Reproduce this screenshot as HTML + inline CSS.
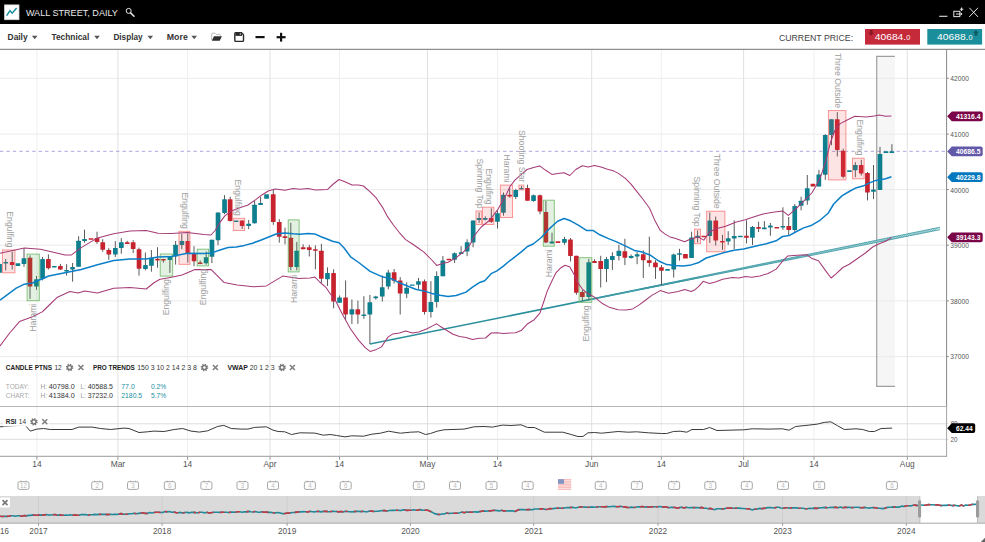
<!DOCTYPE html><html><head><meta charset="utf-8"><title>Wall Street, Daily</title>
<style>html,body{margin:0;padding:0;background:#fff;overflow:hidden}body{width:985px;height:542px;position:relative}svg{display:block;position:absolute;left:0;top:0}text{font-family:"Liberation Sans", Arial, sans-serif}</style></head><body>
<svg width="985" height="542" viewBox="0 0 985 542">
<rect x="0" y="0" width="985" height="542" fill="#fff"/>
<defs><clipPath id="cc"><rect x="0" y="50.5" width="947" height="355.5"/></clipPath><clipPath id="nv"><rect x="0" y="496" width="985" height="27"/></clipPath></defs>
<rect x="876.7" y="56.5" width="18.2" height="330" fill="#f6f6f6"/>
<line x1="0" x2="947" y1="78.3" y2="78.3" stroke="#ebebeb" stroke-width="1"/>
<line x1="0" x2="947" y1="134.1" y2="134.1" stroke="#ebebeb" stroke-width="1"/>
<line x1="0" x2="947" y1="189.6" y2="189.6" stroke="#ebebeb" stroke-width="1"/>
<line x1="0" x2="947" y1="245.2" y2="245.2" stroke="#ebebeb" stroke-width="1"/>
<line x1="0" x2="947" y1="300.9" y2="300.9" stroke="#ebebeb" stroke-width="1"/>
<line x1="0" x2="947" y1="356.6" y2="356.6" stroke="#ebebeb" stroke-width="1"/>
<line x1="36.9" x2="36.9" y1="50" y2="456" stroke="#efefef" stroke-width="1"/>
<line x1="36.9" x2="36.9" y1="456.5" y2="459.8" stroke="#999" stroke-width="1"/>
<line x1="117.9" x2="117.9" y1="50" y2="456" stroke="#e1e1e1" stroke-width="1"/>
<line x1="117.9" x2="117.9" y1="456.5" y2="459.8" stroke="#999" stroke-width="1"/>
<line x1="187.6" x2="187.6" y1="50" y2="456" stroke="#efefef" stroke-width="1"/>
<line x1="187.6" x2="187.6" y1="456.5" y2="459.8" stroke="#999" stroke-width="1"/>
<line x1="270" x2="270" y1="50" y2="456" stroke="#e1e1e1" stroke-width="1"/>
<line x1="270" x2="270" y1="456.5" y2="459.8" stroke="#999" stroke-width="1"/>
<line x1="339.5" x2="339.5" y1="50" y2="456" stroke="#efefef" stroke-width="1"/>
<line x1="339.5" x2="339.5" y1="456.5" y2="459.8" stroke="#999" stroke-width="1"/>
<line x1="427.5" x2="427.5" y1="50" y2="456" stroke="#e1e1e1" stroke-width="1"/>
<line x1="427.5" x2="427.5" y1="456.5" y2="459.8" stroke="#999" stroke-width="1"/>
<line x1="497.5" x2="497.5" y1="50" y2="456" stroke="#efefef" stroke-width="1"/>
<line x1="497.5" x2="497.5" y1="456.5" y2="459.8" stroke="#999" stroke-width="1"/>
<line x1="591.7" x2="591.7" y1="50" y2="456" stroke="#e1e1e1" stroke-width="1"/>
<line x1="591.7" x2="591.7" y1="456.5" y2="459.8" stroke="#999" stroke-width="1"/>
<line x1="661.3" x2="661.3" y1="50" y2="456" stroke="#efefef" stroke-width="1"/>
<line x1="661.3" x2="661.3" y1="456.5" y2="459.8" stroke="#999" stroke-width="1"/>
<line x1="743.6" x2="743.6" y1="50" y2="456" stroke="#e1e1e1" stroke-width="1"/>
<line x1="743.6" x2="743.6" y1="456.5" y2="459.8" stroke="#999" stroke-width="1"/>
<line x1="814" x2="814" y1="50" y2="456" stroke="#efefef" stroke-width="1"/>
<line x1="814" x2="814" y1="456.5" y2="459.8" stroke="#999" stroke-width="1"/>
<line x1="907.3" x2="907.3" y1="50" y2="456" stroke="#e1e1e1" stroke-width="1"/>
<line x1="907.3" x2="907.3" y1="456.5" y2="459.8" stroke="#999" stroke-width="1"/>
<path d="M894.9 56.4 H876.7 V386.4 H894.9" fill="none" stroke="#a0a0a0" stroke-width="1.2"/>
<g clip-path="url(#cc)">
<line x1="0" x2="947" y1="151.3" y2="151.3" stroke="#a9a5dc" stroke-width="1" stroke-dasharray="3.3 3.15"/>
<path d="M369.9 344.1 L700 277.2" stroke="#2a909c" stroke-width="1.5" fill="none"/>
<path d="M700 277.2 L800 256.9" stroke="#2a909c" stroke-width="1.1" fill="none" opacity="0.7"/>
<path d="M585 300.2 L940 227.2 L940 229.7 L585 300.7 Z" fill="#c4e3e6" opacity="0.9"/>
<path d="M640 289.7 L643.6 288.2" stroke="#2a909c" stroke-width="0.7" opacity="0.75" fill="none"/>
<path d="M642.6 289.2 L646.2 287.7" stroke="#2a909c" stroke-width="0.7" opacity="0.75" fill="none"/>
<path d="M645.2 288.7 L648.8 287.1" stroke="#2a909c" stroke-width="0.7" opacity="0.75" fill="none"/>
<path d="M647.8 288.2 L651.4 286.6" stroke="#2a909c" stroke-width="0.7" opacity="0.75" fill="none"/>
<path d="M650.4 287.6 L654 286.1" stroke="#2a909c" stroke-width="0.7" opacity="0.75" fill="none"/>
<path d="M653 287.1 L656.6 285.5" stroke="#2a909c" stroke-width="0.7" opacity="0.75" fill="none"/>
<path d="M655.6 286.6 L659.2 285" stroke="#2a909c" stroke-width="0.7" opacity="0.75" fill="none"/>
<path d="M658.2 286.1 L661.8 284.4" stroke="#2a909c" stroke-width="0.7" opacity="0.75" fill="none"/>
<path d="M660.8 285.6 L664.4 283.9" stroke="#2a909c" stroke-width="0.7" opacity="0.75" fill="none"/>
<path d="M663.4 285 L667 283.4" stroke="#2a909c" stroke-width="0.7" opacity="0.75" fill="none"/>
<path d="M666 284.5 L669.6 282.8" stroke="#2a909c" stroke-width="0.7" opacity="0.75" fill="none"/>
<path d="M668.6 284 L672.2 282.3" stroke="#2a909c" stroke-width="0.7" opacity="0.75" fill="none"/>
<path d="M671.2 283.5 L674.8 281.8" stroke="#2a909c" stroke-width="0.7" opacity="0.75" fill="none"/>
<path d="M673.8 283 L677.4 281.2" stroke="#2a909c" stroke-width="0.7" opacity="0.75" fill="none"/>
<path d="M676.4 282.4 L680 280.7" stroke="#2a909c" stroke-width="0.7" opacity="0.75" fill="none"/>
<path d="M679 281.9 L682.6 280.2" stroke="#2a909c" stroke-width="0.7" opacity="0.75" fill="none"/>
<path d="M681.6 281.4 L685.2 279.6" stroke="#2a909c" stroke-width="0.7" opacity="0.75" fill="none"/>
<path d="M684.2 280.9 L687.8 279.1" stroke="#2a909c" stroke-width="0.7" opacity="0.75" fill="none"/>
<path d="M686.8 280.4 L690.4 278.6" stroke="#2a909c" stroke-width="0.7" opacity="0.75" fill="none"/>
<path d="M689.4 279.8 L693 278" stroke="#2a909c" stroke-width="0.7" opacity="0.75" fill="none"/>
<path d="M692 279.3 L695.6 277.5" stroke="#2a909c" stroke-width="0.7" opacity="0.75" fill="none"/>
<path d="M694.6 278.8 L698.2 277" stroke="#2a909c" stroke-width="0.7" opacity="0.75" fill="none"/>
<path d="M697.2 278.3 L700.8 276.4" stroke="#2a909c" stroke-width="0.7" opacity="0.75" fill="none"/>
<path d="M699.8 277.8 L703.4 275.9" stroke="#2a909c" stroke-width="0.7" opacity="0.75" fill="none"/>
<path d="M702.4 277.2 L706 275.4" stroke="#2a909c" stroke-width="0.7" opacity="0.75" fill="none"/>
<path d="M705 276.7 L708.6 274.8" stroke="#2a909c" stroke-width="0.7" opacity="0.75" fill="none"/>
<path d="M707.6 276.2 L711.2 274.3" stroke="#2a909c" stroke-width="0.7" opacity="0.75" fill="none"/>
<path d="M710.2 275.7 L713.8 273.8" stroke="#2a909c" stroke-width="0.7" opacity="0.75" fill="none"/>
<path d="M712.8 275.2 L716.4 273.2" stroke="#2a909c" stroke-width="0.7" opacity="0.75" fill="none"/>
<path d="M715.4 274.6 L719 272.7" stroke="#2a909c" stroke-width="0.7" opacity="0.75" fill="none"/>
<path d="M718 274.1 L721.6 272.2" stroke="#2a909c" stroke-width="0.7" opacity="0.75" fill="none"/>
<path d="M720.6 273.6 L724.2 271.6" stroke="#2a909c" stroke-width="0.7" opacity="0.75" fill="none"/>
<path d="M723.2 273.1 L726.8 271.1" stroke="#2a909c" stroke-width="0.7" opacity="0.75" fill="none"/>
<path d="M725.8 272.6 L729.4 270.5" stroke="#2a909c" stroke-width="0.7" opacity="0.75" fill="none"/>
<path d="M728.4 272.1 L732 270" stroke="#2a909c" stroke-width="0.7" opacity="0.75" fill="none"/>
<path d="M731 271.5 L734.6 269.5" stroke="#2a909c" stroke-width="0.7" opacity="0.75" fill="none"/>
<path d="M733.6 271 L737.2 268.9" stroke="#2a909c" stroke-width="0.7" opacity="0.75" fill="none"/>
<path d="M736.2 270.5 L739.8 268.4" stroke="#2a909c" stroke-width="0.7" opacity="0.75" fill="none"/>
<path d="M738.8 270 L742.4 267.9" stroke="#2a909c" stroke-width="0.7" opacity="0.75" fill="none"/>
<path d="M741.4 269.5 L745 267.3" stroke="#2a909c" stroke-width="0.7" opacity="0.75" fill="none"/>
<path d="M744 268.9 L747.6 266.8" stroke="#2a909c" stroke-width="0.7" opacity="0.75" fill="none"/>
<path d="M746.6 268.4 L750.2 266.3" stroke="#2a909c" stroke-width="0.7" opacity="0.75" fill="none"/>
<path d="M749.2 267.9 L752.8 265.7" stroke="#2a909c" stroke-width="0.7" opacity="0.75" fill="none"/>
<path d="M751.8 267.4 L755.4 265.2" stroke="#2a909c" stroke-width="0.7" opacity="0.75" fill="none"/>
<path d="M754.4 266.9 L758 264.7" stroke="#2a909c" stroke-width="0.7" opacity="0.75" fill="none"/>
<path d="M757 266.3 L760.6 264.1" stroke="#2a909c" stroke-width="0.7" opacity="0.75" fill="none"/>
<path d="M759.6 265.8 L763.2 263.6" stroke="#2a909c" stroke-width="0.7" opacity="0.75" fill="none"/>
<path d="M762.2 265.3 L765.8 263.1" stroke="#2a909c" stroke-width="0.7" opacity="0.75" fill="none"/>
<path d="M764.8 264.8 L768.4 262.5" stroke="#2a909c" stroke-width="0.7" opacity="0.75" fill="none"/>
<path d="M767.4 264.3 L771 262" stroke="#2a909c" stroke-width="0.7" opacity="0.75" fill="none"/>
<path d="M770 263.7 L773.6 261.5" stroke="#2a909c" stroke-width="0.7" opacity="0.75" fill="none"/>
<path d="M772.6 263.2 L776.2 260.9" stroke="#2a909c" stroke-width="0.7" opacity="0.75" fill="none"/>
<path d="M775.2 262.7 L778.8 260.4" stroke="#2a909c" stroke-width="0.7" opacity="0.75" fill="none"/>
<path d="M777.8 262.2 L781.4 259.9" stroke="#2a909c" stroke-width="0.7" opacity="0.75" fill="none"/>
<path d="M780.4 261.7 L784 259.3" stroke="#2a909c" stroke-width="0.7" opacity="0.75" fill="none"/>
<path d="M783 261.1 L786.6 258.8" stroke="#2a909c" stroke-width="0.7" opacity="0.75" fill="none"/>
<path d="M785.6 260.6 L789.2 258.3" stroke="#2a909c" stroke-width="0.7" opacity="0.75" fill="none"/>
<path d="M788.2 260.1 L791.8 257.7" stroke="#2a909c" stroke-width="0.7" opacity="0.75" fill="none"/>
<path d="M790.8 259.6 L794.4 257.2" stroke="#2a909c" stroke-width="0.7" opacity="0.75" fill="none"/>
<path d="M793.4 259.1 L797 256.6" stroke="#2a909c" stroke-width="0.7" opacity="0.75" fill="none"/>
<path d="M796 258.5 L799.6 256.1" stroke="#2a909c" stroke-width="0.7" opacity="0.75" fill="none"/>
<path d="M798.6 258 L802.2 255.6" stroke="#2a909c" stroke-width="0.7" opacity="0.75" fill="none"/>
<path d="M801.2 257.5 L804.8 255" stroke="#2a909c" stroke-width="0.7" opacity="0.75" fill="none"/>
<path d="M803.8 257 L807.4 254.5" stroke="#2a909c" stroke-width="0.7" opacity="0.75" fill="none"/>
<path d="M806.4 256.5 L810 254" stroke="#2a909c" stroke-width="0.7" opacity="0.75" fill="none"/>
<path d="M809 255.9 L812.6 253.4" stroke="#2a909c" stroke-width="0.7" opacity="0.75" fill="none"/>
<path d="M811.6 255.4 L815.2 252.9" stroke="#2a909c" stroke-width="0.7" opacity="0.75" fill="none"/>
<path d="M814.2 254.9 L817.8 252.4" stroke="#2a909c" stroke-width="0.7" opacity="0.75" fill="none"/>
<path d="M816.8 254.4 L820.4 251.8" stroke="#2a909c" stroke-width="0.7" opacity="0.75" fill="none"/>
<path d="M819.4 253.9 L823 251.3" stroke="#2a909c" stroke-width="0.7" opacity="0.75" fill="none"/>
<path d="M822 253.3 L825.6 250.8" stroke="#2a909c" stroke-width="0.7" opacity="0.75" fill="none"/>
<path d="M824.6 252.8 L828.2 250.2" stroke="#2a909c" stroke-width="0.7" opacity="0.75" fill="none"/>
<path d="M827.2 252.3 L830.8 249.7" stroke="#2a909c" stroke-width="0.7" opacity="0.75" fill="none"/>
<path d="M829.8 251.8 L833.4 249.2" stroke="#2a909c" stroke-width="0.7" opacity="0.75" fill="none"/>
<path d="M832.4 251.3 L836 248.6" stroke="#2a909c" stroke-width="0.7" opacity="0.75" fill="none"/>
<path d="M835 250.7 L838.6 248.1" stroke="#2a909c" stroke-width="0.7" opacity="0.75" fill="none"/>
<path d="M837.6 250.2 L841.2 247.6" stroke="#2a909c" stroke-width="0.7" opacity="0.75" fill="none"/>
<path d="M840.2 249.7 L843.8 247" stroke="#2a909c" stroke-width="0.7" opacity="0.75" fill="none"/>
<path d="M842.8 249.2 L846.4 246.5" stroke="#2a909c" stroke-width="0.7" opacity="0.75" fill="none"/>
<path d="M845.4 248.7 L849 246" stroke="#2a909c" stroke-width="0.7" opacity="0.75" fill="none"/>
<path d="M848 248.1 L851.6 245.4" stroke="#2a909c" stroke-width="0.7" opacity="0.75" fill="none"/>
<path d="M850.6 247.6 L854.2 244.9" stroke="#2a909c" stroke-width="0.7" opacity="0.75" fill="none"/>
<path d="M853.2 247.1 L856.8 244.4" stroke="#2a909c" stroke-width="0.7" opacity="0.75" fill="none"/>
<path d="M855.8 246.6 L859.4 243.8" stroke="#2a909c" stroke-width="0.7" opacity="0.75" fill="none"/>
<path d="M858.4 246.1 L862 243.3" stroke="#2a909c" stroke-width="0.7" opacity="0.75" fill="none"/>
<path d="M861 245.5 L864.6 242.7" stroke="#2a909c" stroke-width="0.7" opacity="0.75" fill="none"/>
<path d="M863.6 245 L867.2 242.2" stroke="#2a909c" stroke-width="0.7" opacity="0.75" fill="none"/>
<path d="M866.2 244.5 L869.8 241.7" stroke="#2a909c" stroke-width="0.7" opacity="0.75" fill="none"/>
<path d="M868.8 244 L872.4 241.1" stroke="#2a909c" stroke-width="0.7" opacity="0.75" fill="none"/>
<path d="M871.4 243.5 L875 240.6" stroke="#2a909c" stroke-width="0.7" opacity="0.75" fill="none"/>
<path d="M874 242.9 L877.6 240.1" stroke="#2a909c" stroke-width="0.7" opacity="0.75" fill="none"/>
<path d="M876.6 242.4 L880.2 239.5" stroke="#2a909c" stroke-width="0.7" opacity="0.75" fill="none"/>
<path d="M879.2 241.9 L882.8 239" stroke="#2a909c" stroke-width="0.7" opacity="0.75" fill="none"/>
<path d="M881.8 241.4 L885.4 238.5" stroke="#2a909c" stroke-width="0.7" opacity="0.75" fill="none"/>
<path d="M884.4 240.9 L888 237.9" stroke="#2a909c" stroke-width="0.7" opacity="0.75" fill="none"/>
<path d="M887 240.3 L890.6 237.4" stroke="#2a909c" stroke-width="0.7" opacity="0.75" fill="none"/>
<path d="M889.6 239.8 L893.2 236.9" stroke="#2a909c" stroke-width="0.7" opacity="0.75" fill="none"/>
<path d="M892.2 239.3 L895.8 236.3" stroke="#2a909c" stroke-width="0.7" opacity="0.75" fill="none"/>
<path d="M894.8 238.8 L898.4 235.8" stroke="#2a909c" stroke-width="0.7" opacity="0.75" fill="none"/>
<path d="M897.4 238.3 L901 235.3" stroke="#2a909c" stroke-width="0.7" opacity="0.75" fill="none"/>
<path d="M900 237.7 L903.6 234.7" stroke="#2a909c" stroke-width="0.7" opacity="0.75" fill="none"/>
<path d="M902.6 237.2 L906.2 234.2" stroke="#2a909c" stroke-width="0.7" opacity="0.75" fill="none"/>
<path d="M905.2 236.7 L908.8 233.7" stroke="#2a909c" stroke-width="0.7" opacity="0.75" fill="none"/>
<path d="M907.8 236.2 L911.4 233.1" stroke="#2a909c" stroke-width="0.7" opacity="0.75" fill="none"/>
<path d="M910.4 235.7 L914 232.6" stroke="#2a909c" stroke-width="0.7" opacity="0.75" fill="none"/>
<path d="M913 235.1 L916.6 232.1" stroke="#2a909c" stroke-width="0.7" opacity="0.75" fill="none"/>
<path d="M915.6 234.6 L919.2 231.5" stroke="#2a909c" stroke-width="0.7" opacity="0.75" fill="none"/>
<path d="M918.2 234.1 L921.8 231" stroke="#2a909c" stroke-width="0.7" opacity="0.75" fill="none"/>
<path d="M920.8 233.6 L924.4 230.5" stroke="#2a909c" stroke-width="0.7" opacity="0.75" fill="none"/>
<path d="M923.4 233.1 L927 229.9" stroke="#2a909c" stroke-width="0.7" opacity="0.75" fill="none"/>
<path d="M926 232.5 L929.6 229.4" stroke="#2a909c" stroke-width="0.7" opacity="0.75" fill="none"/>
<path d="M928.6 232 L932.2 228.8" stroke="#2a909c" stroke-width="0.7" opacity="0.75" fill="none"/>
<path d="M931.2 231.5 L934.8 228.3" stroke="#2a909c" stroke-width="0.7" opacity="0.75" fill="none"/>
<path d="M933.8 231 L937.4 227.8" stroke="#2a909c" stroke-width="0.7" opacity="0.75" fill="none"/>
<path d="M585 300.2 L940 227.2" stroke="#2a909c" stroke-width="0.85" opacity="0.85" fill="none"/>
<path d="M585 300.7 L940 229.7" stroke="#2a909c" stroke-width="0.85" opacity="0.85" fill="none"/>
<line x1="-0.4" x2="-0.4" y1="262.5" y2="273.5" stroke="#5a5a5a" stroke-width="1"/>
<rect x="-2.8" y="263.9" width="4.7" height="8.9" fill="#0e7f8e" rx="0.4"/>
<line x1="5.7" x2="5.7" y1="259" y2="270.4" stroke="#5a5a5a" stroke-width="1"/>
<rect x="3.4" y="261.9" width="4.7" height="1.6" fill="#0e7f8e" rx="0.4"/>
<line x1="12.2" x2="12.2" y1="251.7" y2="269.5" stroke="#5a5a5a" stroke-width="1"/>
<rect x="9.8" y="261.9" width="4.7" height="3.1" fill="#c7232f" rx="0.4"/>
<rect x="15.5" y="263.2" width="4.7" height="2.8" fill="#0e7f8e" rx="0.4"/>
<line x1="24" x2="24" y1="248.4" y2="266.8" stroke="#5a5a5a" stroke-width="1"/>
<rect x="21.6" y="258.2" width="4.7" height="5.7" fill="#0e7f8e" rx="0.4"/>
<line x1="30" x2="30" y1="255.4" y2="298.8" stroke="#5a5a5a" stroke-width="1"/>
<rect x="27.6" y="257.8" width="4.7" height="28.8" fill="#c7232f" rx="0.4"/>
<line x1="36.5" x2="36.5" y1="276" y2="289.8" stroke="#5a5a5a" stroke-width="1"/>
<rect x="34.1" y="279.3" width="4.7" height="7.3" fill="#0e7f8e" rx="0.4"/>
<line x1="42.6" x2="42.6" y1="257" y2="280.4" stroke="#5a5a5a" stroke-width="1"/>
<rect x="40.2" y="259" width="4.7" height="19.8" fill="#0e7f8e" rx="0.4"/>
<line x1="48.4" x2="48.4" y1="254.4" y2="269.5" stroke="#5a5a5a" stroke-width="1"/>
<rect x="46" y="259" width="4.7" height="9.2" fill="#c7232f" rx="0.4"/>
<rect x="52" y="266" width="4.7" height="1.4" fill="#0e7f8e" rx="0.4"/>
<line x1="60.4" x2="60.4" y1="263.9" y2="269.9" stroke="#5a5a5a" stroke-width="1"/>
<rect x="58" y="266" width="4.7" height="3.5" fill="#c7232f" rx="0.4"/>
<line x1="66.6" x2="66.6" y1="264.2" y2="275.6" stroke="#5a5a5a" stroke-width="1"/>
<rect x="64.2" y="269.9" width="4.7" height="1.6" fill="#0e7f8e" rx="0.4"/>
<line x1="72.6" x2="72.6" y1="263" y2="281.7" stroke="#5a5a5a" stroke-width="1"/>
<rect x="70.2" y="267.1" width="4.7" height="2.4" fill="#0e7f8e" rx="0.4"/>
<line x1="78.6" x2="78.6" y1="236.2" y2="266.8" stroke="#5a5a5a" stroke-width="1"/>
<rect x="76.2" y="240.8" width="4.7" height="26" fill="#0e7f8e" rx="0.4"/>
<line x1="84.5" x2="84.5" y1="229.7" y2="242.7" stroke="#5a5a5a" stroke-width="1"/>
<rect x="82.2" y="239" width="4.7" height="2.1" fill="#0e7f8e" rx="0.4"/>
<rect x="88.7" y="238.2" width="4.7" height="1.6" fill="#c7232f" rx="0.4"/>
<line x1="97" x2="97" y1="231.7" y2="243.9" stroke="#5a5a5a" stroke-width="1"/>
<rect x="94.7" y="237.9" width="4.7" height="4" fill="#c7232f" rx="0.4"/>
<line x1="102.7" x2="102.7" y1="239.2" y2="251.7" stroke="#5a5a5a" stroke-width="1"/>
<rect x="100.4" y="242.3" width="4.7" height="7.4" fill="#c7232f" rx="0.4"/>
<line x1="108.8" x2="108.8" y1="247.9" y2="259.8" stroke="#5a5a5a" stroke-width="1"/>
<rect x="106.5" y="250" width="4.7" height="4.4" fill="#c7232f" rx="0.4"/>
<line x1="115.3" x2="115.3" y1="241.1" y2="257" stroke="#5a5a5a" stroke-width="1"/>
<rect x="113" y="247.9" width="4.7" height="6.5" fill="#0e7f8e" rx="0.4"/>
<line x1="121.3" x2="121.3" y1="238.2" y2="253.8" stroke="#5a5a5a" stroke-width="1"/>
<rect x="119" y="242.3" width="4.7" height="5.6" fill="#0e7f8e" rx="0.4"/>
<line x1="127.2" x2="127.2" y1="240.8" y2="243.9" stroke="#5a5a5a" stroke-width="1"/>
<rect x="124.9" y="242.3" width="4.7" height="1.6" fill="#c7232f" rx="0.4"/>
<line x1="133.2" x2="133.2" y1="240.3" y2="253" stroke="#5a5a5a" stroke-width="1"/>
<rect x="130.8" y="242.3" width="4.7" height="6.6" fill="#c7232f" rx="0.4"/>
<line x1="139" x2="139" y1="247.6" y2="275.6" stroke="#5a5a5a" stroke-width="1"/>
<rect x="136.7" y="249.2" width="4.7" height="19.5" fill="#c7232f" rx="0.4"/>
<line x1="145.4" x2="145.4" y1="252.5" y2="270.4" stroke="#5a5a5a" stroke-width="1"/>
<rect x="143.1" y="265" width="4.7" height="4.1" fill="#0e7f8e" rx="0.4"/>
<line x1="151.4" x2="151.4" y1="250" y2="271.7" stroke="#5a5a5a" stroke-width="1"/>
<rect x="149.1" y="257.7" width="4.7" height="8.1" fill="#0e7f8e" rx="0.4"/>
<line x1="157.5" x2="157.5" y1="247.2" y2="267.8" stroke="#5a5a5a" stroke-width="1"/>
<rect x="155.2" y="258.8" width="4.7" height="1.6" fill="#c7232f" rx="0.4"/>
<line x1="163.4" x2="163.4" y1="258.9" y2="262.6" stroke="#5a5a5a" stroke-width="1"/>
<rect x="161.1" y="258.9" width="4.7" height="1.6" fill="#c7232f" rx="0.4"/>
<line x1="169.9" x2="169.9" y1="256.5" y2="272.9" stroke="#5a5a5a" stroke-width="1"/>
<rect x="167.6" y="256.5" width="4.7" height="3.5" fill="#0e7f8e" rx="0.4"/>
<line x1="175.6" x2="175.6" y1="241" y2="264.6" stroke="#5a5a5a" stroke-width="1"/>
<rect x="173.2" y="244.8" width="4.7" height="11.7" fill="#0e7f8e" rx="0.4"/>
<line x1="181.8" x2="181.8" y1="233.7" y2="249.2" stroke="#5a5a5a" stroke-width="1"/>
<rect x="179.5" y="241" width="4.7" height="4.1" fill="#0e7f8e" rx="0.4"/>
<line x1="187.8" x2="187.8" y1="233.4" y2="262.6" stroke="#5a5a5a" stroke-width="1"/>
<rect x="185.5" y="241" width="4.7" height="11.9" fill="#c7232f" rx="0.4"/>
<line x1="194" x2="194" y1="246.2" y2="266.2" stroke="#5a5a5a" stroke-width="1"/>
<rect x="191.7" y="252.9" width="4.7" height="8.4" fill="#c7232f" rx="0.4"/>
<line x1="200.2" x2="200.2" y1="260.5" y2="264.1" stroke="#5a5a5a" stroke-width="1"/>
<rect x="197.8" y="262.6" width="4.7" height="1.5" fill="#c7232f" rx="0.4"/>
<line x1="206.2" x2="206.2" y1="251.6" y2="264.6" stroke="#5a5a5a" stroke-width="1"/>
<rect x="203.8" y="257.3" width="4.7" height="6" fill="#0e7f8e" rx="0.4"/>
<line x1="211.9" x2="211.9" y1="239.7" y2="263" stroke="#5a5a5a" stroke-width="1"/>
<rect x="209.6" y="239.7" width="4.7" height="17.1" fill="#0e7f8e" rx="0.4"/>
<line x1="218" x2="218" y1="212.6" y2="245.1" stroke="#5a5a5a" stroke-width="1"/>
<rect x="215.7" y="212.6" width="4.7" height="27.6" fill="#0e7f8e" rx="0.4"/>
<line x1="224.5" x2="224.5" y1="195.1" y2="214.2" stroke="#5a5a5a" stroke-width="1"/>
<rect x="222.2" y="199.3" width="4.7" height="13.6" fill="#0e7f8e" rx="0.4"/>
<line x1="230.2" x2="230.2" y1="196.7" y2="221.5" stroke="#5a5a5a" stroke-width="1"/>
<rect x="227.8" y="199.3" width="4.7" height="21.8" fill="#c7232f" rx="0.4"/>
<rect x="233.8" y="220.4" width="4.7" height="1.6" fill="#0e7f8e" rx="0.4"/>
<line x1="242.2" x2="242.2" y1="220.4" y2="228.9" stroke="#5a5a5a" stroke-width="1"/>
<rect x="239.8" y="220.4" width="4.7" height="5.5" fill="#c7232f" rx="0.4"/>
<line x1="248.7" x2="248.7" y1="219.9" y2="229.2" stroke="#5a5a5a" stroke-width="1"/>
<rect x="246.3" y="223.7" width="4.7" height="2.2" fill="#0e7f8e" rx="0.4"/>
<line x1="254.6" x2="254.6" y1="200.8" y2="223.7" stroke="#5a5a5a" stroke-width="1"/>
<rect x="252.2" y="204.8" width="4.7" height="18.4" fill="#0e7f8e" rx="0.4"/>
<line x1="260.6" x2="260.6" y1="196.7" y2="205" stroke="#5a5a5a" stroke-width="1"/>
<rect x="258.2" y="202.9" width="4.7" height="2.1" fill="#0e7f8e" rx="0.4"/>
<rect x="264.2" y="194.3" width="4.7" height="4.5" fill="#0e7f8e" rx="0.4"/>
<line x1="273.3" x2="273.3" y1="189.9" y2="224.8" stroke="#5a5a5a" stroke-width="1"/>
<rect x="270.9" y="194.3" width="4.7" height="27.7" fill="#c7232f" rx="0.4"/>
<line x1="279.3" x2="279.3" y1="219.1" y2="242.7" stroke="#5a5a5a" stroke-width="1"/>
<rect x="276.9" y="222" width="4.7" height="14.7" fill="#c7232f" rx="0.4"/>
<line x1="285" x2="285" y1="227.6" y2="244.3" stroke="#5a5a5a" stroke-width="1"/>
<rect x="282.6" y="236.2" width="4.7" height="1.9" fill="#c7232f" rx="0.4"/>
<line x1="290.8" x2="290.8" y1="222.7" y2="270.3" stroke="#5a5a5a" stroke-width="1"/>
<rect x="288.4" y="237.8" width="4.7" height="29.2" fill="#c7232f" rx="0.4"/>
<line x1="296.8" x2="296.8" y1="241.9" y2="270.3" stroke="#5a5a5a" stroke-width="1"/>
<rect x="294.4" y="250.8" width="4.7" height="16.2" fill="#0e7f8e" rx="0.4"/>
<line x1="303.1" x2="303.1" y1="244.3" y2="249.2" stroke="#5a5a5a" stroke-width="1"/>
<rect x="300.8" y="247.2" width="4.7" height="2" fill="#c7232f" rx="0.4"/>
<line x1="309.3" x2="309.3" y1="244.8" y2="256.5" stroke="#5a5a5a" stroke-width="1"/>
<rect x="306.9" y="247.2" width="4.7" height="2.8" fill="#c7232f" rx="0.4"/>
<line x1="315.4" x2="315.4" y1="245.4" y2="269.3" stroke="#5a5a5a" stroke-width="1"/>
<rect x="313" y="249.2" width="4.7" height="1.6" fill="#c7232f" rx="0.4"/>
<line x1="321.4" x2="321.4" y1="243.8" y2="282.8" stroke="#5a5a5a" stroke-width="1"/>
<rect x="319" y="250.8" width="4.7" height="27.9" fill="#c7232f" rx="0.4"/>
<line x1="327.5" x2="327.5" y1="267.4" y2="286" stroke="#5a5a5a" stroke-width="1"/>
<rect x="325.1" y="273" width="4.7" height="6.2" fill="#0e7f8e" rx="0.4"/>
<line x1="333.6" x2="333.6" y1="269.3" y2="308.3" stroke="#5a5a5a" stroke-width="1"/>
<rect x="331.2" y="273" width="4.7" height="28.5" fill="#c7232f" rx="0.4"/>
<line x1="339.6" x2="339.6" y1="295.5" y2="302.8" stroke="#5a5a5a" stroke-width="1"/>
<rect x="337.2" y="297.4" width="4.7" height="5.4" fill="#0e7f8e" rx="0.4"/>
<line x1="345.6" x2="345.6" y1="280.4" y2="320" stroke="#5a5a5a" stroke-width="1"/>
<rect x="343.2" y="297.4" width="4.7" height="17.1" fill="#c7232f" rx="0.4"/>
<line x1="351.9" x2="351.9" y1="299.5" y2="324.1" stroke="#5a5a5a" stroke-width="1"/>
<rect x="349.5" y="309.3" width="4.7" height="5.2" fill="#0e7f8e" rx="0.4"/>
<line x1="357.9" x2="357.9" y1="300.7" y2="323.8" stroke="#5a5a5a" stroke-width="1"/>
<rect x="355.5" y="309.3" width="4.7" height="5.2" fill="#c7232f" rx="0.4"/>
<line x1="363.9" x2="363.9" y1="296.2" y2="318.9" stroke="#5a5a5a" stroke-width="1"/>
<rect x="361.5" y="314.5" width="4.7" height="1.6" fill="#0e7f8e" rx="0.4"/>
<line x1="369.9" x2="369.9" y1="294.9" y2="343.9" stroke="#5a5a5a" stroke-width="1"/>
<rect x="367.5" y="302.2" width="4.7" height="12.2" fill="#0e7f8e" rx="0.4"/>
<line x1="375.8" x2="375.8" y1="295.8" y2="299.5" stroke="#5a5a5a" stroke-width="1"/>
<rect x="373.4" y="296.6" width="4.7" height="1.6" fill="#0e7f8e" rx="0.4"/>
<line x1="382.3" x2="382.3" y1="275.5" y2="301.5" stroke="#5a5a5a" stroke-width="1"/>
<rect x="379.9" y="287.2" width="4.7" height="9.4" fill="#0e7f8e" rx="0.4"/>
<line x1="388.3" x2="388.3" y1="269.8" y2="289.3" stroke="#5a5a5a" stroke-width="1"/>
<rect x="385.9" y="272.6" width="4.7" height="13.8" fill="#0e7f8e" rx="0.4"/>
<line x1="394.1" x2="394.1" y1="269" y2="283.6" stroke="#5a5a5a" stroke-width="1"/>
<rect x="391.8" y="272.2" width="4.7" height="8.5" fill="#c7232f" rx="0.4"/>
<line x1="400.2" x2="400.2" y1="277.1" y2="314.5" stroke="#5a5a5a" stroke-width="1"/>
<rect x="397.8" y="280.4" width="4.7" height="13" fill="#c7232f" rx="0.4"/>
<line x1="406.7" x2="406.7" y1="282.3" y2="298.2" stroke="#5a5a5a" stroke-width="1"/>
<rect x="404.3" y="287.7" width="4.7" height="6" fill="#0e7f8e" rx="0.4"/>
<rect x="409.9" y="284.4" width="4.7" height="1.4" fill="#0e7f8e" rx="0.4"/>
<line x1="418.5" x2="418.5" y1="277.9" y2="288.8" stroke="#5a5a5a" stroke-width="1"/>
<rect x="416.1" y="281.2" width="4.7" height="3.5" fill="#0e7f8e" rx="0.4"/>
<line x1="424.5" x2="424.5" y1="279.5" y2="314.5" stroke="#5a5a5a" stroke-width="1"/>
<rect x="422.1" y="281.2" width="4.7" height="30.8" fill="#c7232f" rx="0.4"/>
<line x1="430.9" x2="430.9" y1="281.2" y2="317.6" stroke="#5a5a5a" stroke-width="1"/>
<rect x="428.5" y="302" width="4.7" height="10" fill="#0e7f8e" rx="0.4"/>
<line x1="436.7" x2="436.7" y1="271.4" y2="307.6" stroke="#5a5a5a" stroke-width="1"/>
<rect x="434.3" y="276" width="4.7" height="26" fill="#0e7f8e" rx="0.4"/>
<line x1="442.9" x2="442.9" y1="256" y2="276.3" stroke="#5a5a5a" stroke-width="1"/>
<rect x="440.5" y="260.5" width="4.7" height="15.8" fill="#0e7f8e" rx="0.4"/>
<rect x="446.5" y="258.8" width="4.7" height="1.4" fill="#c7232f" rx="0.4"/>
<line x1="454.6" x2="454.6" y1="252.4" y2="263" stroke="#5a5a5a" stroke-width="1"/>
<rect x="452.2" y="253.2" width="4.7" height="6.5" fill="#0e7f8e" rx="0.4"/>
<line x1="461.1" x2="461.1" y1="246.2" y2="253.9" stroke="#5a5a5a" stroke-width="1"/>
<rect x="458.8" y="252.3" width="4.7" height="1.6" fill="#0e7f8e" rx="0.4"/>
<line x1="467.1" x2="467.1" y1="239.3" y2="256.2" stroke="#5a5a5a" stroke-width="1"/>
<rect x="464.8" y="242.3" width="4.7" height="9.2" fill="#0e7f8e" rx="0.4"/>
<line x1="473.1" x2="473.1" y1="220.5" y2="247.3" stroke="#5a5a5a" stroke-width="1"/>
<rect x="470.8" y="220.5" width="4.7" height="21.9" fill="#0e7f8e" rx="0.4"/>
<line x1="479.1" x2="479.1" y1="212.4" y2="222.9" stroke="#5a5a5a" stroke-width="1"/>
<rect x="476.8" y="218" width="4.7" height="2" fill="#0e7f8e" rx="0.4"/>
<line x1="485.3" x2="485.3" y1="216.4" y2="220.5" stroke="#5a5a5a" stroke-width="1"/>
<rect x="482.9" y="218" width="4.7" height="1.7" fill="#0e7f8e" rx="0.4"/>
<line x1="491.3" x2="491.3" y1="208.3" y2="222.9" stroke="#5a5a5a" stroke-width="1"/>
<rect x="488.9" y="218" width="4.7" height="3.8" fill="#c7232f" rx="0.4"/>
<line x1="497.5" x2="497.5" y1="210.4" y2="228.6" stroke="#5a5a5a" stroke-width="1"/>
<rect x="495.1" y="213.2" width="4.7" height="8.6" fill="#0e7f8e" rx="0.4"/>
<line x1="503.5" x2="503.5" y1="192.5" y2="215.6" stroke="#5a5a5a" stroke-width="1"/>
<rect x="501.1" y="194.8" width="4.7" height="17.9" fill="#0e7f8e" rx="0.4"/>
<line x1="509.7" x2="509.7" y1="188" y2="197.7" stroke="#5a5a5a" stroke-width="1"/>
<rect x="507.3" y="194.8" width="4.7" height="1.6" fill="#c7232f" rx="0.4"/>
<line x1="515.8" x2="515.8" y1="188.8" y2="199" stroke="#5a5a5a" stroke-width="1"/>
<rect x="513.4" y="189.9" width="4.7" height="7" fill="#0e7f8e" rx="0.4"/>
<line x1="521.5" x2="521.5" y1="186" y2="189.6" stroke="#5a5a5a" stroke-width="1"/>
<rect x="519.1" y="188" width="4.7" height="1.6" fill="#0e7f8e" rx="0.4"/>
<line x1="527.5" x2="527.5" y1="184.7" y2="200.7" stroke="#5a5a5a" stroke-width="1"/>
<rect x="525.1" y="188" width="4.7" height="12.7" fill="#c7232f" rx="0.4"/>
<line x1="533.6" x2="533.6" y1="194.5" y2="201.8" stroke="#5a5a5a" stroke-width="1"/>
<rect x="531.2" y="195.3" width="4.7" height="5.7" fill="#0e7f8e" rx="0.4"/>
<line x1="540" x2="540" y1="194.5" y2="214.3" stroke="#5a5a5a" stroke-width="1"/>
<rect x="537.6" y="195.3" width="4.7" height="16.2" fill="#c7232f" rx="0.4"/>
<line x1="545.9" x2="545.9" y1="201" y2="243.2" stroke="#5a5a5a" stroke-width="1"/>
<rect x="543.5" y="212" width="4.7" height="30.4" fill="#c7232f" rx="0.4"/>
<line x1="552" x2="552" y1="232.7" y2="243.6" stroke="#5a5a5a" stroke-width="1"/>
<rect x="549.6" y="241.6" width="4.7" height="1.9" fill="#0e7f8e" rx="0.4"/>
<rect x="555.6" y="241.2" width="4.7" height="1.7" fill="#c7232f" rx="0.4"/>
<line x1="564.5" x2="564.5" y1="236.9" y2="244.8" stroke="#5a5a5a" stroke-width="1"/>
<rect x="562.1" y="238.9" width="4.7" height="3.8" fill="#0e7f8e" rx="0.4"/>
<line x1="570.5" x2="570.5" y1="238.1" y2="261.5" stroke="#5a5a5a" stroke-width="1"/>
<rect x="568.1" y="239.6" width="4.7" height="16.4" fill="#c7232f" rx="0.4"/>
<line x1="576.4" x2="576.4" y1="255.8" y2="294.8" stroke="#5a5a5a" stroke-width="1"/>
<rect x="574" y="255.8" width="4.7" height="36.9" fill="#c7232f" rx="0.4"/>
<line x1="582.4" x2="582.4" y1="290.2" y2="300.8" stroke="#5a5a5a" stroke-width="1"/>
<rect x="580" y="291.9" width="4.7" height="5.2" fill="#c7232f" rx="0.4"/>
<line x1="588.8" x2="588.8" y1="259" y2="299.7" stroke="#5a5a5a" stroke-width="1"/>
<rect x="586.4" y="262.3" width="4.7" height="34.8" fill="#0e7f8e" rx="0.4"/>
<line x1="594.5" x2="594.5" y1="259.3" y2="262.9" stroke="#5a5a5a" stroke-width="1"/>
<rect x="592.1" y="261" width="4.7" height="1.9" fill="#c7232f" rx="0.4"/>
<line x1="600.7" x2="600.7" y1="255.8" y2="287.5" stroke="#5a5a5a" stroke-width="1"/>
<rect x="598.4" y="261" width="4.7" height="8.1" fill="#c7232f" rx="0.4"/>
<line x1="606.5" x2="606.5" y1="256.9" y2="282.1" stroke="#5a5a5a" stroke-width="1"/>
<rect x="604.1" y="259" width="4.7" height="10.1" fill="#0e7f8e" rx="0.4"/>
<line x1="612.4" x2="612.4" y1="252.3" y2="269.9" stroke="#5a5a5a" stroke-width="1"/>
<rect x="610" y="255.9" width="4.7" height="4" fill="#0e7f8e" rx="0.4"/>
<line x1="618.9" x2="618.9" y1="244.8" y2="260.5" stroke="#5a5a5a" stroke-width="1"/>
<rect x="616.5" y="250.7" width="4.7" height="5.3" fill="#0e7f8e" rx="0.4"/>
<line x1="624.9" x2="624.9" y1="238.8" y2="265.1" stroke="#5a5a5a" stroke-width="1"/>
<rect x="622.5" y="251.2" width="4.7" height="6.5" fill="#c7232f" rx="0.4"/>
<line x1="631.1" x2="631.1" y1="254.5" y2="258.6" stroke="#5a5a5a" stroke-width="1"/>
<rect x="628.8" y="256.1" width="4.7" height="2" fill="#0e7f8e" rx="0.4"/>
<line x1="637.1" x2="637.1" y1="252.1" y2="264.2" stroke="#5a5a5a" stroke-width="1"/>
<rect x="634.8" y="254.2" width="4.7" height="2.2" fill="#0e7f8e" rx="0.4"/>
<line x1="643.3" x2="643.3" y1="250.4" y2="278" stroke="#5a5a5a" stroke-width="1"/>
<rect x="640.9" y="254.2" width="4.7" height="6" fill="#c7232f" rx="0.4"/>
<line x1="649.3" x2="649.3" y1="236.6" y2="266.7" stroke="#5a5a5a" stroke-width="1"/>
<rect x="646.9" y="260.2" width="4.7" height="2.7" fill="#c7232f" rx="0.4"/>
<line x1="655.5" x2="655.5" y1="260.2" y2="278.9" stroke="#5a5a5a" stroke-width="1"/>
<rect x="653.1" y="262.6" width="4.7" height="4.6" fill="#c7232f" rx="0.4"/>
<line x1="661.5" x2="661.5" y1="265.1" y2="285.4" stroke="#5a5a5a" stroke-width="1"/>
<rect x="659.1" y="267.2" width="4.7" height="3.5" fill="#c7232f" rx="0.4"/>
<rect x="665.2" y="269.1" width="4.7" height="1.6" fill="#0e7f8e" rx="0.4"/>
<line x1="673.7" x2="673.7" y1="253.7" y2="277.6" stroke="#5a5a5a" stroke-width="1"/>
<rect x="671.4" y="254.5" width="4.7" height="15.1" fill="#0e7f8e" rx="0.4"/>
<line x1="679.5" x2="679.5" y1="248.8" y2="260.7" stroke="#5a5a5a" stroke-width="1"/>
<rect x="677.1" y="253.2" width="4.7" height="1.6" fill="#0e7f8e" rx="0.4"/>
<rect x="683.1" y="254" width="4.7" height="4.6" fill="#c7232f" rx="0.4"/>
<line x1="691.6" x2="691.6" y1="231.7" y2="258" stroke="#5a5a5a" stroke-width="1"/>
<rect x="689.2" y="237.6" width="4.7" height="20.4" fill="#0e7f8e" rx="0.4"/>
<line x1="697.6" x2="697.6" y1="230.4" y2="242.5" stroke="#5a5a5a" stroke-width="1"/>
<rect x="695.2" y="235.7" width="4.7" height="2.3" fill="#0e7f8e" rx="0.4"/>
<rect x="701.4" y="235.7" width="4.7" height="1.5" fill="#c7232f" rx="0.4"/>
<line x1="709.8" x2="709.8" y1="212.5" y2="243" stroke="#5a5a5a" stroke-width="1"/>
<rect x="707.4" y="220.6" width="4.7" height="15.4" fill="#0e7f8e" rx="0.4"/>
<line x1="715.7" x2="715.7" y1="216.5" y2="245.5" stroke="#5a5a5a" stroke-width="1"/>
<rect x="713.4" y="220.6" width="4.7" height="19.8" fill="#c7232f" rx="0.4"/>
<line x1="722.5" x2="722.5" y1="234.9" y2="249.9" stroke="#5a5a5a" stroke-width="1"/>
<rect x="720.1" y="240.9" width="4.7" height="1.6" fill="#c7232f" rx="0.4"/>
<line x1="728.2" x2="728.2" y1="231.2" y2="245" stroke="#5a5a5a" stroke-width="1"/>
<rect x="725.9" y="238.2" width="4.7" height="3.2" fill="#0e7f8e" rx="0.4"/>
<line x1="734.2" x2="734.2" y1="220.3" y2="249" stroke="#5a5a5a" stroke-width="1"/>
<rect x="731.9" y="236" width="4.7" height="2.5" fill="#0e7f8e" rx="0.4"/>
<rect x="738" y="235.7" width="4.7" height="1.5" fill="#0e7f8e" rx="0.4"/>
<line x1="746.5" x2="746.5" y1="220.3" y2="243.4" stroke="#5a5a5a" stroke-width="1"/>
<rect x="744.1" y="235.7" width="4.7" height="2.1" fill="#c7232f" rx="0.4"/>
<line x1="752.5" x2="752.5" y1="226" y2="245" stroke="#5a5a5a" stroke-width="1"/>
<rect x="750.1" y="227.1" width="4.7" height="10.6" fill="#0e7f8e" rx="0.4"/>
<line x1="758.6" x2="758.6" y1="221.7" y2="232" stroke="#5a5a5a" stroke-width="1"/>
<rect x="756.2" y="227.1" width="4.7" height="1.6" fill="#c7232f" rx="0.4"/>
<line x1="764.4" x2="764.4" y1="221.1" y2="229.2" stroke="#5a5a5a" stroke-width="1"/>
<rect x="762" y="227.6" width="4.7" height="1.6" fill="#0e7f8e" rx="0.4"/>
<line x1="770.4" x2="770.4" y1="223" y2="235.7" stroke="#5a5a5a" stroke-width="1"/>
<rect x="768" y="225.5" width="4.7" height="2.1" fill="#0e7f8e" rx="0.4"/>
<rect x="774.5" y="227.1" width="4.7" height="1.4" fill="#c7232f" rx="0.4"/>
<line x1="782.9" x2="782.9" y1="207.3" y2="229.9" stroke="#5a5a5a" stroke-width="1"/>
<rect x="780.5" y="226" width="4.7" height="1.4" fill="#0e7f8e" rx="0.4"/>
<line x1="788.7" x2="788.7" y1="217" y2="235.9" stroke="#5a5a5a" stroke-width="1"/>
<rect x="786.4" y="226" width="4.7" height="4" fill="#c7232f" rx="0.4"/>
<line x1="794.8" x2="794.8" y1="204" y2="231.7" stroke="#5a5a5a" stroke-width="1"/>
<rect x="792.4" y="206" width="4.7" height="24" fill="#0e7f8e" rx="0.4"/>
<line x1="801.1" x2="801.1" y1="196.7" y2="210.4" stroke="#5a5a5a" stroke-width="1"/>
<rect x="798.8" y="200.8" width="4.7" height="5" fill="#0e7f8e" rx="0.4"/>
<line x1="807.3" x2="807.3" y1="175" y2="204.8" stroke="#5a5a5a" stroke-width="1"/>
<rect x="804.9" y="188.2" width="4.7" height="12.4" fill="#0e7f8e" rx="0.4"/>
<rect x="810.6" y="183.7" width="4.7" height="2.9" fill="#c7232f" rx="0.4"/>
<line x1="818.9" x2="818.9" y1="169.9" y2="186.6" stroke="#5a5a5a" stroke-width="1"/>
<rect x="816.5" y="174.4" width="4.7" height="12.2" fill="#0e7f8e" rx="0.4"/>
<line x1="825.3" x2="825.3" y1="134.1" y2="179.9" stroke="#5a5a5a" stroke-width="1"/>
<rect x="822.9" y="134.9" width="4.7" height="39.8" fill="#0e7f8e" rx="0.4"/>
<line x1="831.5" x2="831.5" y1="119.2" y2="145.2" stroke="#5a5a5a" stroke-width="1"/>
<rect x="829.1" y="119.2" width="4.7" height="15.7" fill="#0e7f8e" rx="0.4"/>
<line x1="837.3" x2="837.3" y1="112.2" y2="156.5" stroke="#5a5a5a" stroke-width="1"/>
<rect x="834.9" y="119.2" width="4.7" height="30.8" fill="#c7232f" rx="0.4"/>
<line x1="843.2" x2="843.2" y1="148.7" y2="178.3" stroke="#5a5a5a" stroke-width="1"/>
<rect x="840.9" y="150.7" width="4.7" height="26" fill="#c7232f" rx="0.4"/>
<rect x="847.1" y="170.3" width="4.7" height="1.7" fill="#0e7f8e" rx="0.4"/>
<line x1="855.3" x2="855.3" y1="162.2" y2="177.2" stroke="#5a5a5a" stroke-width="1"/>
<rect x="852.9" y="165" width="4.7" height="5.2" fill="#0e7f8e" rx="0.4"/>
<line x1="861.3" x2="861.3" y1="159.8" y2="175.5" stroke="#5a5a5a" stroke-width="1"/>
<rect x="858.9" y="165" width="4.7" height="8.4" fill="#c7232f" rx="0.4"/>
<line x1="867.5" x2="867.5" y1="172" y2="200.4" stroke="#5a5a5a" stroke-width="1"/>
<rect x="865.1" y="172.9" width="4.7" height="19.7" fill="#c7232f" rx="0.4"/>
<line x1="873.5" x2="873.5" y1="165" y2="199.1" stroke="#5a5a5a" stroke-width="1"/>
<rect x="871.1" y="189.4" width="4.7" height="2.4" fill="#0e7f8e" rx="0.4"/>
<line x1="880" x2="880" y1="146.8" y2="189.9" stroke="#5a5a5a" stroke-width="1"/>
<rect x="877.6" y="154.1" width="4.7" height="35.8" fill="#0e7f8e" rx="0.4"/>
<rect x="883.6" y="151.2" width="4.7" height="1.9" fill="#0e7f8e" rx="0.4"/>
<line x1="891.9" x2="891.9" y1="144.2" y2="153.1" stroke="#5a5a5a" stroke-width="1"/>
<rect x="889.5" y="151.2" width="4.7" height="1.9" fill="#0e7f8e" rx="0.4"/>
<rect x="2.4" y="250" width="12.5" height="22.8" fill="#f04848" fill-opacity="0.15" stroke="#f98888" stroke-width="0.9"/>
<rect x="27.1" y="254.1" width="12.2" height="46.6" fill="#3f9f35" fill-opacity="0.15" stroke="#7cbd75" stroke-width="0.9"/>
<rect x="160.2" y="254" width="12.5" height="22.1" fill="#3f9f35" fill-opacity="0.15" stroke="#7cbd75" stroke-width="0.9"/>
<rect x="179" y="231.3" width="10.9" height="33" fill="#f04848" fill-opacity="0.15" stroke="#f98888" stroke-width="0.9"/>
<rect x="197.2" y="249.2" width="11.4" height="16.7" fill="#3f9f35" fill-opacity="0.15" stroke="#7cbd75" stroke-width="0.9"/>
<rect x="233.3" y="218.3" width="11.4" height="12.2" fill="#f04848" fill-opacity="0.15" stroke="#f98888" stroke-width="0.9"/>
<rect x="288.2" y="219.9" width="10.9" height="52" fill="#3f9f35" fill-opacity="0.15" stroke="#7cbd75" stroke-width="0.9"/>
<rect x="476" y="211" width="5.7" height="13.5" fill="#f04848" fill-opacity="0.15" stroke="#f98888" stroke-width="0.9"/>
<rect x="482.4" y="207.2" width="11.5" height="17.3" fill="#f04848" fill-opacity="0.15" stroke="#f98888" stroke-width="0.9"/>
<rect x="500.4" y="185.1" width="12.2" height="32.5" fill="#f04848" fill-opacity="0.15" stroke="#f98888" stroke-width="0.9"/>
<rect x="518.9" y="185.1" width="4.9" height="4.8" fill="#f04848" fill-opacity="0.15" stroke="#f98888" stroke-width="0.9"/>
<rect x="543.3" y="200.2" width="11" height="46" fill="#3f9f35" fill-opacity="0.15" stroke="#7cbd75" stroke-width="0.9"/>
<rect x="579.1" y="257.7" width="12.7" height="44.6" fill="#3f9f35" fill-opacity="0.15" stroke="#7cbd75" stroke-width="0.9"/>
<rect x="694.5" y="229.1" width="6.1" height="14.6" fill="#f04848" fill-opacity="0.15" stroke="#f98888" stroke-width="0.9"/>
<rect x="706.7" y="211.2" width="18.2" height="40.6" fill="#f04848" fill-opacity="0.15" stroke="#f98888" stroke-width="0.9"/>
<rect x="828.4" y="110.6" width="17.5" height="69.3" fill="#f04848" fill-opacity="0.15" stroke="#f98888" stroke-width="0.9"/>
<rect x="852.4" y="158.2" width="11.7" height="20.6" fill="#f04848" fill-opacity="0.15" stroke="#f98888" stroke-width="0.9"/>
<path d="M0 253.3 L24.4 248 L40.6 249.2 L65 254.9 L71.5 254.9 L81.2 247.6 L97.5 237.9 L113.7 233.8 L130 231 L146.2 230.6 L158 233.3 L171.2 233.4 L187.5 232.6 L203.7 234.5 L211 235 L215.1 230.5 L220 222.4 L224.8 215.9 L231.3 211 L239.5 207.7 L247.6 205.3 L255.7 199.6 L262.2 194.7 L268.7 190.7 L275.2 189.1 L285 190.2 L293.1 188.6 L300 189.2 L308.1 188.6 L315.4 190.1 L327.6 189.4 L333.3 184 L339 179.5 L345.5 181.9 L352 184.9 L358.5 184.9 L363.4 186 L369.9 191.7 L376.4 198.2 L382.9 207.9 L387.7 216.9 L393.4 225 L399.1 232.3 L405.6 239.6 L412.1 243.7 L417.8 247.7 L423.7 251.9 L431.8 260 L436.7 265.4 L443.2 263.3 L448.1 262.2 L456.2 257.6 L464.3 251.1 L469.9 244.9 L474.7 235.1 L481.2 227 L489.4 220.5 L497.5 209.9 L505.6 196.1 L510 186.5 L514.9 180.1 L521.4 174.4 L527.1 169.5 L533.6 167.5 L539.7 165.9 L545.7 170.3 L551.9 174.4 L557.9 173.6 L564.1 172.7 L569.8 175.5 L575.8 169.5 L582.3 165.8 L588.3 167.1 L594.5 165.4 L601 167.1 L607.5 169.2 L614 171.1 L618.8 173.6 L625.3 178.4 L631 184.1 L636.7 191.4 L643.2 199.5 L649.7 208.5 L654.6 219.9 L660.3 230.4 L665.1 234.1 L670 236.9 L675 238.2 L684.7 241.8 L690 239.3 L698.1 236.9 L703.8 240.1 L709.5 232 L716 228.7 L725.7 226.3 L735.5 222.2 L745.2 219.8 L755 216.5 L763.1 214.1 L771.2 212.5 L782.6 210.9 L788.3 215.4 L795.6 209.2 L803.7 201.1 L811.8 193 L816 186 L820.7 176.3 L825.6 161.7 L830.5 142.2 L835.4 129.2 L840.2 123.6 L846.7 120.3 L854.8 116.2 L866.2 117.1 L874.3 115.9 L879.2 115.1 L885.7 116.2 L891.4 115.9" fill="none" stroke="#a53b76" stroke-width="1.05" stroke-linejoin="round"/>
<path d="M0 346 L9.7 333 L19.5 321.6 L32.5 316.7 L42.2 311.9 L46.3 308 L56.9 297.6 L69.9 291.5 L78 293.1 L84.5 291.1 L97.5 293.1 L113.7 288.2 L130 287.4 L146.2 289 L154.3 282.5 L160 279.3 L169 277.7 L182 275.1 L195 269.6 L211.2 269.6 L224.2 282.6 L237.2 284.9 L253.4 286.8 L266.4 285.9 L282.7 276.1 L298.9 278.4 L310 277.9 L314.9 277.1 L319.7 282 L326.2 287.7 L331.1 295 L336 301.5 L342.5 314.4 L350.6 329 L358.7 340.4 L365.2 347.7 L370.1 351.4 L375 350.1 L381.5 346.9 L384.7 342 L388 337.1 L392.8 333.9 L399.3 333 L405.8 330.9 L412.3 333 L418.8 331.9 L427 328.7 L433.5 325.4 L436.7 323.8 L440 326.2 L446.5 330.2 L453 334.3 L459.5 336.4 L466 337.5 L472.5 339.5 L479 338.3 L485.5 338 L491.2 333 L496.9 332.7 L503.4 333.5 L509.9 333.1 L515.5 332.8 L521.2 330.6 L527.7 323.7 L534.2 319.7 L539.9 313.2 L544 301 L547.2 291.2 L551.3 282.3 L556.1 272.6 L561 267.7 L565.1 265.2 L569.9 266.9 L574 274.2 L578.1 283.1 L582.1 288.8 L586.2 292.5 L593.7 296.7 L601.9 303.2 L610 307.6 L618.1 309.7 L626.2 310 L632.7 308.9 L639.2 304.9 L645.7 300 L652.2 295.1 L660.3 290.6 L668.5 293.2 L678.2 291.5 L684.7 289.4 L691.2 291.5 L695 289.7 L699.1 286.2 L703.1 281.3 L709.6 283.4 L716.1 281.8 L722.6 279.3 L732.4 277.6 L738.9 278 L745.4 276.4 L751.9 277.2 L760 275.9 L768.1 273.5 L776.2 269.1 L782.7 261 L787.6 256.1 L797.3 255.3 L807.1 254.8 L812 258.6 L818.5 260.7 L825 269.9 L831.1 278 L836.3 273.7 L842.8 267.5 L849.3 264.2 L855 260.2 L865.4 253 L872.7 247 L879.2 243.8 L885.7 241.3 L891.4 237.6" fill="none" stroke="#a53b76" stroke-width="1.05" stroke-linejoin="round"/>
<path d="M0 300.1 L16.2 288.2 L24.4 284.2 L32.5 283 L48.7 276 L65 272.8 L81.2 269.5 L97.5 264.7 L113.7 260.6 L130 259 L146.2 259 L158 256.9 L171.2 256.5 L187.5 253.2 L203.7 253.6 L211.9 252.9 L220 250 L228.1 247.5 L236.2 247 L244.3 245.4 L252.5 243.2 L260.6 240.2 L268.7 237 L276.8 233.7 L285 232.9 L293.1 233.7 L300 234.2 L308.1 233.4 L314.6 233.9 L321.1 236.7 L327.6 239.3 L332.5 241.2 L339 242.8 L343.9 247.7 L350.6 256.8 L358.7 262.5 L370.1 271.4 L383.1 277.1 L391.2 278.7 L399.3 282.8 L407.5 286 L415.6 289.3 L423.7 290.9 L431.8 293.4 L440 295.3 L448.1 296.6 L456.2 295.5 L466 292.1 L472.5 287.2 L479 282.8 L484.7 280.7 L491.2 273.7 L496.9 270.9 L503.4 266.1 L508.2 262 L513.7 257.8 L521.9 251.4 L527.5 246.5 L533.2 244 L541.3 237.5 L549.5 228.6 L557.6 221.3 L564.1 218.5 L570.6 220.8 L578.7 225.4 L586.8 230.6 L593.3 230.6 L599.8 234.8 L607.9 238.4 L616.1 241.6 L626.2 246.4 L634.3 250.4 L642.5 252.1 L650.6 255.3 L658.7 261 L666.8 264.6 L675 265.5 L683.1 265.9 L691.2 264.9 L698.1 262.8 L706.2 258 L714.4 255.5 L722.5 253.1 L733.9 250.2 L743.6 249 L755 246.3 L766.3 243.7 L776.1 240.8 L782.6 236.5 L789.1 235.6 L795.6 232 L803.7 227.9 L811.8 225.2 L820 220.3 L828.1 213.3 L833.7 204 L841.9 195.9 L850 191 L856.5 187.7 L863 186.1 L869.5 182.9 L876 180.4 L885.7 178.8 L891.4 176.7" fill="none" stroke="#0b7fc7" stroke-width="1.5" stroke-linejoin="round"/>
<text transform="translate(7 247.5) rotate(90)" font-size="8.7" fill="#9e9e9e" text-anchor="end">Engulfing</text>
<text transform="translate(35.6 303.7) rotate(-90)" font-size="8.7" fill="#9e9e9e" text-anchor="end">Harami</text>
<text transform="translate(169.4 279.1) rotate(-90)" font-size="8.7" fill="#9e9e9e" text-anchor="end">Engulfing</text>
<text transform="translate(181.8 228.8) rotate(90)" font-size="8.7" fill="#9e9e9e" text-anchor="end">Engulfing</text>
<text transform="translate(206.1 268.9) rotate(-90)" font-size="8.7" fill="#9e9e9e" text-anchor="end">Engulfing</text>
<text transform="translate(235.4 215.8) rotate(90)" font-size="8.7" fill="#9e9e9e" text-anchor="end">Engulfing</text>
<text transform="translate(296.5 274.9) rotate(-90)" font-size="8.7" fill="#9e9e9e" text-anchor="end">Harami</text>
<text transform="translate(476.9 208.5) rotate(90)" font-size="8.7" fill="#9e9e9e" text-anchor="end">Spinning Top</text>
<text transform="translate(486.2 204.7) rotate(90)" font-size="8.7" fill="#9e9e9e" text-anchor="end">Engulfing</text>
<text transform="translate(504 182.6) rotate(90)" font-size="8.7" fill="#9e9e9e" text-anchor="end">Harami</text>
<text transform="translate(518.6 182.6) rotate(90)" font-size="8.7" fill="#9e9e9e" text-anchor="end">Shooting Star</text>
<text transform="translate(551.8 249.2) rotate(-90)" font-size="8.7" fill="#9e9e9e" text-anchor="end">Harami</text>
<text transform="translate(588.6 305.3) rotate(-90)" font-size="8.7" fill="#9e9e9e" text-anchor="end">Engulfing</text>
<text transform="translate(694.1 226.6) rotate(90)" font-size="8.7" fill="#9e9e9e" text-anchor="end">Spinning Top</text>
<text transform="translate(713.6 208.7) rotate(90)" font-size="8.7" fill="#9e9e9e" text-anchor="end">Three Outside</text>
<text transform="translate(834.6 108.1) rotate(90)" font-size="8.7" fill="#9e9e9e" text-anchor="end">Three Outside</text>
<text transform="translate(856.5 155.7) rotate(90)" font-size="8.7" fill="#9e9e9e" text-anchor="end">Engulfing</text>
</g>
<text x="5.8" y="370" font-size="7.6" fill="#222" font-weight="bold" text-anchor="start" textLength="46.2" lengthAdjust="spacingAndGlyphs" >CANDLE PTNS</text>
<text x="54.4" y="370" font-size="7.6" fill="#333" font-weight="normal" text-anchor="start" textLength="7.4" lengthAdjust="spacingAndGlyphs" >12</text>
<g transform="translate(69.6 367.5)"><circle r="2.95" fill="none" stroke="#777" stroke-width="1.7" stroke-dasharray="1.16 1.157"/><circle r="2.1" fill="none" stroke="#777" stroke-width="1.5"/></g>
<path d="M78.4 365 l5 5 M83.4 365 l-5 5" stroke="#7d7d7d" stroke-width="1.5" fill="none"/>
<text x="92.9" y="370" font-size="7.6" fill="#222" font-weight="bold" text-anchor="start" textLength="42" lengthAdjust="spacingAndGlyphs" >PRO TRENDS</text>
<text x="137.2" y="370" font-size="7.6" fill="#333" font-weight="normal" text-anchor="start" textLength="59.6" lengthAdjust="spacingAndGlyphs" >150 3 10 2 14 2 3 8</text>
<g transform="translate(204.4 367.5)"><circle r="2.95" fill="none" stroke="#777" stroke-width="1.7" stroke-dasharray="1.16 1.157"/><circle r="2.1" fill="none" stroke="#777" stroke-width="1.5"/></g>
<path d="M212.9 365 l5 5 M217.9 365 l-5 5" stroke="#7d7d7d" stroke-width="1.5" fill="none"/>
<text x="227.4" y="370" font-size="7.6" fill="#222" font-weight="bold" text-anchor="start" textLength="20.4" lengthAdjust="spacingAndGlyphs" >VWAP</text>
<text x="249.8" y="370" font-size="7.6" fill="#333" font-weight="normal" text-anchor="start" textLength="24.8" lengthAdjust="spacingAndGlyphs" >20 1 2 3</text>
<g transform="translate(282.1 367.5)"><circle r="2.95" fill="none" stroke="#777" stroke-width="1.7" stroke-dasharray="1.16 1.157"/><circle r="2.1" fill="none" stroke="#777" stroke-width="1.5"/></g>
<path d="M289.9 365 l5 5 M294.9 365 l-5 5" stroke="#7d7d7d" stroke-width="1.5" fill="none"/>
<text x="5.8" y="389.2" font-size="7.4" fill="#aaa" font-weight="normal" text-anchor="start" textLength="23.4" lengthAdjust="spacingAndGlyphs" >TODAY:</text>
<text x="40.6" y="389.2" font-size="7.4" fill="#999" font-weight="normal" text-anchor="start" textLength="6.5" lengthAdjust="spacingAndGlyphs" >H:</text>
<text x="48.7" y="389.2" font-size="7.4" fill="#333" font-weight="normal" text-anchor="start" textLength="26" lengthAdjust="spacingAndGlyphs" >40798.0</text>
<text x="80.6" y="389.2" font-size="7.4" fill="#999" font-weight="normal" text-anchor="start" textLength="5.2" lengthAdjust="spacingAndGlyphs" >L:</text>
<text x="87.7" y="389.2" font-size="7.4" fill="#333" font-weight="normal" text-anchor="start" textLength="25.2" lengthAdjust="spacingAndGlyphs" >40588.5</text>
<text x="121.2" y="389.2" font-size="7.4" fill="#1a8fa3" font-weight="normal" text-anchor="start" textLength="13.6" lengthAdjust="spacingAndGlyphs" >77.0</text>
<text x="151" y="389.2" font-size="7.4" fill="#1a8fa3" font-weight="normal" text-anchor="start" textLength="15.2" lengthAdjust="spacingAndGlyphs" >0.2%</text>
<text x="5.8" y="398.3" font-size="7.4" fill="#aaa" font-weight="normal" text-anchor="start" textLength="23.4" lengthAdjust="spacingAndGlyphs" >CHART:</text>
<text x="40.6" y="398.3" font-size="7.4" fill="#999" font-weight="normal" text-anchor="start" textLength="6.5" lengthAdjust="spacingAndGlyphs" >H:</text>
<text x="48.7" y="398.3" font-size="7.4" fill="#333" font-weight="normal" text-anchor="start" textLength="26" lengthAdjust="spacingAndGlyphs" >41384.0</text>
<text x="80.6" y="398.3" font-size="7.4" fill="#999" font-weight="normal" text-anchor="start" textLength="5.2" lengthAdjust="spacingAndGlyphs" >L:</text>
<text x="87.7" y="398.3" font-size="7.4" fill="#333" font-weight="normal" text-anchor="start" textLength="25.2" lengthAdjust="spacingAndGlyphs" >37232.0</text>
<text x="121.2" y="398.3" font-size="7.4" fill="#1a8fa3" font-weight="normal" text-anchor="start" textLength="21" lengthAdjust="spacingAndGlyphs" >2180.5</text>
<text x="151" y="398.3" font-size="7.4" fill="#1a8fa3" font-weight="normal" text-anchor="start" textLength="15.2" lengthAdjust="spacingAndGlyphs" >5.7%</text>
<line x1="0" x2="947" y1="406.5" y2="406.5" stroke="#b5b5b5" stroke-width="1.2"/>
<line x1="0" x2="948.5" y1="423.8" y2="423.8" stroke="#dcdcdc" stroke-width="1"/>
<line x1="0" x2="948.5" y1="439.3" y2="439.3" stroke="#dcdcdc" stroke-width="1"/>
<path d="M0 426.8 L25 425 L30.2 431.1 L36.9 429.1 L43.6 428.5 L50.3 429.5 L72 429.5 L78.7 427.1 L92.1 427.1 L100.5 428.5 L110.6 429.5 L124 428.1 L129 428.5 L139 432.5 L147.4 431.8 L154.1 431.1 L164.2 431.5 L174.2 429.5 L182.6 428.5 L191 431.1 L199.3 432.1 L207.7 430.8 L217.8 426.4 L223.8 425.4 L231.2 428.5 L241.2 429.1 L247.9 429.1 L254.6 427.4 L266.3 426.8 L273 430.1 L278.1 431.5 L284.8 431.8 L291.5 434.5 L299.8 432.8 L314.9 433.1 L323.3 435.2 L330 434.5 L336.7 435.5 L345 436.9 L351.8 435.8 L363.5 436.2 L371.9 434.2 L380.3 433.2 L388.6 431.2 L400.4 433.2 L410.4 432.2 L418.8 431.8 L425.5 434.5 L430.5 433.5 L437.2 431.2 L443.9 429.8 L464 429.1 L474.1 426.8 L484.1 426.5 L492.5 427.1 L502.5 425.1 L510.9 425.5 L521 424.8 L527.7 427.5 L534.4 427.5 L544.4 432.2 L562.8 432.2 L571.2 434.5 L577.9 436.5 L582.9 436.5 L588 432.8 L594.7 432.5 L601.4 433.2 L618.1 431.5 L628.2 432.2 L636.5 431.8 L648.3 432.8 L661.7 433.5 L666.7 433.5 L673.4 431.5 L680.1 431.2 L686.8 432.2 L691.9 429.5 L703.6 429.5 L709.6 427.5 L717 430.5 L743.8 429.8 L752.2 428.8 L768.9 429.1 L782.3 428.8 L789 430.2 L795.7 426.5 L809.1 425.1 L817.5 424.1 L824.2 422.4 L830.9 421.8 L837.6 425.8 L844.3 429.5 L856 428.8 L862.7 429.5 L869.4 431.5 L874.4 431.5 L881.1 428.5 L892.2 428.1" fill="none" stroke="#3a3a3a" stroke-width="1" stroke-linejoin="round"/>
<rect x="3" y="416" width="46" height="10.5" fill="#fff" opacity="0.92"/>
<text x="5.8" y="424.3" font-size="7.6" fill="#222" font-weight="bold" text-anchor="start" textLength="10.6" lengthAdjust="spacingAndGlyphs" >RSI</text>
<text x="18.8" y="424.3" font-size="7.6" fill="#333" font-weight="normal" text-anchor="start" textLength="7.2" lengthAdjust="spacingAndGlyphs" >14</text>
<g transform="translate(33.9 421.8)"><circle r="2.95" fill="none" stroke="#777" stroke-width="1.7" stroke-dasharray="1.16 1.157"/><circle r="2.1" fill="none" stroke="#777" stroke-width="1.5"/></g>
<path d="M42.3 419.3 l5 5 M47.3 419.3 l-5 5" stroke="#7d7d7d" stroke-width="1.5" fill="none"/>
<line x1="0" x2="947" y1="456.3" y2="456.3" stroke="#9a9a9a" stroke-width="1"/>
<line x1="946.6" x2="946.6" y1="50" y2="406" stroke="#868686" stroke-width="1"/><line x1="946.6" x2="946.6" y1="406" y2="456.8" stroke="#a4a4a4" stroke-width="1"/>
<line x1="947" x2="948.9" y1="78.3" y2="78.3" stroke="#8a8a8a" stroke-width="1"/>
<line x1="947" x2="948.9" y1="134.1" y2="134.1" stroke="#8a8a8a" stroke-width="1"/>
<line x1="947" x2="948.9" y1="189.6" y2="189.6" stroke="#8a8a8a" stroke-width="1"/>
<line x1="947" x2="948.9" y1="245.2" y2="245.2" stroke="#8a8a8a" stroke-width="1"/>
<line x1="947" x2="948.9" y1="300.9" y2="300.9" stroke="#8a8a8a" stroke-width="1"/>
<line x1="947" x2="948.9" y1="356.6" y2="356.6" stroke="#8a8a8a" stroke-width="1"/>
<text x="950.3" y="81.2" font-size="7.2" fill="#555" font-weight="normal" text-anchor="start" textLength="18.6" lengthAdjust="spacingAndGlyphs" >42000</text>
<text x="950.3" y="137" font-size="7.2" fill="#555" font-weight="normal" text-anchor="start" textLength="18.6" lengthAdjust="spacingAndGlyphs" >41000</text>
<text x="950.3" y="192.5" font-size="7.2" fill="#555" font-weight="normal" text-anchor="start" textLength="18.6" lengthAdjust="spacingAndGlyphs" >40000</text>
<text x="950.3" y="248.2" font-size="7.2" fill="#555" font-weight="normal" text-anchor="start" textLength="18.6" lengthAdjust="spacingAndGlyphs" >39000</text>
<text x="950.3" y="303.8" font-size="7.2" fill="#555" font-weight="normal" text-anchor="start" textLength="18.6" lengthAdjust="spacingAndGlyphs" >38000</text>
<text x="950.3" y="359.4" font-size="7.2" fill="#555" font-weight="normal" text-anchor="start" textLength="18.6" lengthAdjust="spacingAndGlyphs" >37000</text>
<text x="950.6" y="426.4" font-size="7.2" fill="#555" font-weight="normal" text-anchor="start" textLength="7" lengthAdjust="spacingAndGlyphs" >80</text>
<text x="950.6" y="441.7" font-size="7.2" fill="#555" font-weight="normal" text-anchor="start" textLength="7" lengthAdjust="spacingAndGlyphs" >20</text>
<path d="M947.2 116.3 L951.8 111.4 H980.7 a2 2 0 0 1 2 2 V119.2 a2 2 0 0 1 -2 2 H951.8 Z" fill="#7a0447"/>
<text x="956" y="118.8" font-size="7" fill="#fff" font-weight="bold" text-anchor="start" textLength="24.4" lengthAdjust="spacingAndGlyphs" >41316.4</text>
<path d="M947.2 151.4 L951.8 146.5 H980.7 a2 2 0 0 1 2 2 V154.3 a2 2 0 0 1 -2 2 H951.8 Z" fill="#6258a8"/>
<text x="956" y="154" font-size="7" fill="#fff" font-weight="bold" text-anchor="start" textLength="24.4" lengthAdjust="spacingAndGlyphs" >40686.5</text>
<path d="M947.2 177.2 L951.8 172.3 H980.7 a2 2 0 0 1 2 2 V180.1 a2 2 0 0 1 -2 2 H951.8 Z" fill="#0478bf"/>
<text x="956" y="179.8" font-size="7" fill="#fff" font-weight="bold" text-anchor="start" textLength="24.4" lengthAdjust="spacingAndGlyphs" >40229.8</text>
<path d="M947.2 237.3 L951.8 232.4 H980.7 a2 2 0 0 1 2 2 V240.2 a2 2 0 0 1 -2 2 H951.8 Z" fill="#7a0447"/>
<text x="956" y="239.9" font-size="7" fill="#fff" font-weight="bold" text-anchor="start" textLength="24.4" lengthAdjust="spacingAndGlyphs" >39143.3</text>
<path d="M947.2 428.2 L951.8 423.3 H973.2 a2 2 0 0 1 2 2 V431.1 a2 2 0 0 1 -2 2 H951.8 Z" fill="#000"/>
<text x="956" y="430.8" font-size="7" fill="#fff" font-weight="bold" text-anchor="start" textLength="16.6" lengthAdjust="spacingAndGlyphs" >62.44</text>
<text x="36.9" y="466.6" font-size="8.4" fill="#555" font-weight="normal" text-anchor="middle" >14</text>
<text x="117.9" y="466.6" font-size="8.4" fill="#555" font-weight="normal" text-anchor="middle" >Mar</text>
<text x="187.6" y="466.6" font-size="8.4" fill="#555" font-weight="normal" text-anchor="middle" >14</text>
<text x="270" y="466.6" font-size="8.4" fill="#555" font-weight="normal" text-anchor="middle" >Apr</text>
<text x="339.5" y="466.6" font-size="8.4" fill="#555" font-weight="normal" text-anchor="middle" >14</text>
<text x="427.5" y="466.6" font-size="8.4" fill="#555" font-weight="normal" text-anchor="middle" >May</text>
<text x="497.5" y="466.6" font-size="8.4" fill="#555" font-weight="normal" text-anchor="middle" >14</text>
<text x="591.7" y="466.6" font-size="8.4" fill="#555" font-weight="normal" text-anchor="middle" >Jun</text>
<text x="661.3" y="466.6" font-size="8.4" fill="#555" font-weight="normal" text-anchor="middle" >14</text>
<text x="743.6" y="466.6" font-size="8.4" fill="#555" font-weight="normal" text-anchor="middle" >Jul</text>
<text x="814" y="466.6" font-size="8.4" fill="#555" font-weight="normal" text-anchor="middle" >14</text>
<text x="907.3" y="466.6" font-size="8.4" fill="#555" font-weight="normal" text-anchor="middle" >Aug</text>
<rect x="18" y="481.7" width="11" height="7.7" rx="1.6" fill="#fff" stroke="#a6a6a6" stroke-width="1"/>
<path d="M20.9 480.7 v1.4 M26.1 480.7 v1.4" stroke="#a6a6a6" stroke-width="1"/>
<text x="23.5" y="488.1" font-size="6.3" fill="#bcbcbc" font-weight="normal" text-anchor="middle" >12</text>
<rect x="91.7" y="481.7" width="11" height="7.7" rx="1.6" fill="#fff" stroke="#a6a6a6" stroke-width="1"/>
<path d="M94.6 480.7 v1.4 M99.8 480.7 v1.4" stroke="#a6a6a6" stroke-width="1"/>
<text x="97.2" y="488.1" font-size="6.3" fill="#bcbcbc" font-weight="normal" text-anchor="middle" >2</text>
<rect x="127.5" y="481.7" width="11" height="7.7" rx="1.6" fill="#fff" stroke="#a6a6a6" stroke-width="1"/>
<path d="M130.4 480.7 v1.4 M135.6 480.7 v1.4" stroke="#a6a6a6" stroke-width="1"/>
<text x="133" y="488.1" font-size="6.3" fill="#bcbcbc" font-weight="normal" text-anchor="middle" >3</text>
<rect x="164.3" y="481.7" width="11" height="7.7" rx="1.6" fill="#fff" stroke="#a6a6a6" stroke-width="1"/>
<path d="M167.2 480.7 v1.4 M172.4 480.7 v1.4" stroke="#a6a6a6" stroke-width="1"/>
<text x="169.8" y="488.1" font-size="6.3" fill="#bcbcbc" font-weight="normal" text-anchor="middle" >6</text>
<rect x="200.9" y="481.7" width="11" height="7.7" rx="1.6" fill="#fff" stroke="#a6a6a6" stroke-width="1"/>
<path d="M203.8 480.7 v1.4 M209 480.7 v1.4" stroke="#a6a6a6" stroke-width="1"/>
<text x="206.4" y="488.1" font-size="6.3" fill="#bcbcbc" font-weight="normal" text-anchor="middle" >7</text>
<rect x="237" y="481.7" width="11" height="7.7" rx="1.6" fill="#fff" stroke="#a6a6a6" stroke-width="1"/>
<path d="M239.9 480.7 v1.4 M245.1 480.7 v1.4" stroke="#a6a6a6" stroke-width="1"/>
<text x="242.5" y="488.1" font-size="6.3" fill="#bcbcbc" font-weight="normal" text-anchor="middle" >3</text>
<rect x="267.5" y="481.7" width="11" height="7.7" rx="1.6" fill="#fff" stroke="#a6a6a6" stroke-width="1"/>
<path d="M270.4 480.7 v1.4 M275.6 480.7 v1.4" stroke="#a6a6a6" stroke-width="1"/>
<text x="273" y="488.1" font-size="6.3" fill="#bcbcbc" font-weight="normal" text-anchor="middle" >4</text>
<rect x="304.4" y="481.7" width="11" height="7.7" rx="1.6" fill="#fff" stroke="#a6a6a6" stroke-width="1"/>
<path d="M307.3 480.7 v1.4 M312.5 480.7 v1.4" stroke="#a6a6a6" stroke-width="1"/>
<text x="309.9" y="488.1" font-size="6.3" fill="#bcbcbc" font-weight="normal" text-anchor="middle" >4</text>
<rect x="340.2" y="481.7" width="11" height="7.7" rx="1.6" fill="#fff" stroke="#a6a6a6" stroke-width="1"/>
<path d="M343.1 480.7 v1.4 M348.3 480.7 v1.4" stroke="#a6a6a6" stroke-width="1"/>
<text x="345.7" y="488.1" font-size="6.3" fill="#bcbcbc" font-weight="normal" text-anchor="middle" >6</text>
<rect x="413.3" y="481.7" width="11" height="7.7" rx="1.6" fill="#fff" stroke="#a6a6a6" stroke-width="1"/>
<path d="M416.2 480.7 v1.4 M421.4 480.7 v1.4" stroke="#a6a6a6" stroke-width="1"/>
<text x="418.8" y="488.1" font-size="6.3" fill="#bcbcbc" font-weight="normal" text-anchor="middle" >6</text>
<rect x="449.5" y="481.7" width="11" height="7.7" rx="1.6" fill="#fff" stroke="#a6a6a6" stroke-width="1"/>
<path d="M452.4 480.7 v1.4 M457.6 480.7 v1.4" stroke="#a6a6a6" stroke-width="1"/>
<text x="455" y="488.1" font-size="6.3" fill="#bcbcbc" font-weight="normal" text-anchor="middle" >4</text>
<rect x="486" y="481.7" width="11" height="7.7" rx="1.6" fill="#fff" stroke="#a6a6a6" stroke-width="1"/>
<path d="M488.9 480.7 v1.4 M494.1 480.7 v1.4" stroke="#a6a6a6" stroke-width="1"/>
<text x="491.5" y="488.1" font-size="6.3" fill="#bcbcbc" font-weight="normal" text-anchor="middle" >5</text>
<rect x="522.2" y="481.7" width="11" height="7.7" rx="1.6" fill="#fff" stroke="#a6a6a6" stroke-width="1"/>
<path d="M525.1 480.7 v1.4 M530.3 480.7 v1.4" stroke="#a6a6a6" stroke-width="1"/>
<text x="527.7" y="488.1" font-size="6.3" fill="#bcbcbc" font-weight="normal" text-anchor="middle" >4</text>
<g transform="translate(558 479.2)">
<rect width="13.2" height="10.6" fill="#fde4e4"/>
<rect y="0" width="13.2" height="0.8" fill="#f6b4b4"/>
<rect y="1.6" width="13.2" height="0.8" fill="#f6b4b4"/>
<rect y="3.3" width="13.2" height="0.8" fill="#f6b4b4"/>
<rect y="4.9" width="13.2" height="0.8" fill="#f6b4b4"/>
<rect y="6.5" width="13.2" height="0.8" fill="#f6b4b4"/>
<rect y="8.1" width="13.2" height="0.8" fill="#f6b4b4"/>
<rect y="9.8" width="13.2" height="0.8" fill="#f6b4b4"/>
<rect width="6" height="4.6" fill="#8393c2"/></g>
<rect x="595.2" y="481.7" width="11" height="7.7" rx="1.6" fill="#fff" stroke="#a6a6a6" stroke-width="1"/>
<path d="M598.1 480.7 v1.4 M603.3 480.7 v1.4" stroke="#a6a6a6" stroke-width="1"/>
<text x="600.7" y="488.1" font-size="6.3" fill="#bcbcbc" font-weight="normal" text-anchor="middle" >4</text>
<rect x="631.4" y="481.7" width="11" height="7.7" rx="1.6" fill="#fff" stroke="#a6a6a6" stroke-width="1"/>
<path d="M634.3 480.7 v1.4 M639.5 480.7 v1.4" stroke="#a6a6a6" stroke-width="1"/>
<text x="636.9" y="488.1" font-size="6.3" fill="#bcbcbc" font-weight="normal" text-anchor="middle" >7</text>
<rect x="668.6" y="481.7" width="11" height="7.7" rx="1.6" fill="#fff" stroke="#a6a6a6" stroke-width="1"/>
<path d="M671.5 480.7 v1.4 M676.7 480.7 v1.4" stroke="#a6a6a6" stroke-width="1"/>
<text x="674.1" y="488.1" font-size="6.3" fill="#bcbcbc" font-weight="normal" text-anchor="middle" >7</text>
<rect x="704.8" y="481.7" width="11" height="7.7" rx="1.6" fill="#fff" stroke="#a6a6a6" stroke-width="1"/>
<path d="M707.7 480.7 v1.4 M712.9 480.7 v1.4" stroke="#a6a6a6" stroke-width="1"/>
<text x="710.3" y="488.1" font-size="6.3" fill="#bcbcbc" font-weight="normal" text-anchor="middle" >3</text>
<rect x="741.3" y="481.7" width="11" height="7.7" rx="1.6" fill="#fff" stroke="#a6a6a6" stroke-width="1"/>
<path d="M744.2 480.7 v1.4 M749.4 480.7 v1.4" stroke="#a6a6a6" stroke-width="1"/>
<text x="746.8" y="488.1" font-size="6.3" fill="#bcbcbc" font-weight="normal" text-anchor="middle" >4</text>
<rect x="777.5" y="481.7" width="11" height="7.7" rx="1.6" fill="#fff" stroke="#a6a6a6" stroke-width="1"/>
<path d="M780.4 480.7 v1.4 M785.6 480.7 v1.4" stroke="#a6a6a6" stroke-width="1"/>
<text x="783" y="488.1" font-size="6.3" fill="#bcbcbc" font-weight="normal" text-anchor="middle" >4</text>
<rect x="813.7" y="481.7" width="11" height="7.7" rx="1.6" fill="#fff" stroke="#a6a6a6" stroke-width="1"/>
<path d="M816.6 480.7 v1.4 M821.8 480.7 v1.4" stroke="#a6a6a6" stroke-width="1"/>
<text x="819.2" y="488.1" font-size="6.3" fill="#bcbcbc" font-weight="normal" text-anchor="middle" >6</text>
<rect x="886.4" y="481.7" width="11" height="7.7" rx="1.6" fill="#fff" stroke="#a6a6a6" stroke-width="1"/>
<path d="M889.3 480.7 v1.4 M894.5 480.7 v1.4" stroke="#a6a6a6" stroke-width="1"/>
<text x="891.9" y="488.1" font-size="6.3" fill="#bcbcbc" font-weight="normal" text-anchor="middle" >6</text>
<rect x="0" y="496" width="985" height="27" fill="#dadada"/>
<rect x="919.8" y="496" width="57.8" height="27" fill="#fff"/>
<line x1="38.5" x2="38.5" y1="496" y2="523" stroke="#cdcdcd" stroke-width="1"/><line x1="38.5" x2="38.5" y1="523" y2="525.8" stroke="#999" stroke-width="1"/>
<line x1="162.1" x2="162.1" y1="496" y2="523" stroke="#cdcdcd" stroke-width="1"/><line x1="162.1" x2="162.1" y1="523" y2="525.8" stroke="#999" stroke-width="1"/>
<line x1="287.1" x2="287.1" y1="496" y2="523" stroke="#cdcdcd" stroke-width="1"/><line x1="287.1" x2="287.1" y1="523" y2="525.8" stroke="#999" stroke-width="1"/>
<line x1="410.4" x2="410.4" y1="496" y2="523" stroke="#cdcdcd" stroke-width="1"/><line x1="410.4" x2="410.4" y1="523" y2="525.8" stroke="#999" stroke-width="1"/>
<line x1="533.7" x2="533.7" y1="496" y2="523" stroke="#cdcdcd" stroke-width="1"/><line x1="533.7" x2="533.7" y1="523" y2="525.8" stroke="#999" stroke-width="1"/>
<line x1="658" x2="658" y1="496" y2="523" stroke="#cdcdcd" stroke-width="1"/><line x1="658" x2="658" y1="523" y2="525.8" stroke="#999" stroke-width="1"/>
<line x1="782.6" x2="782.6" y1="496" y2="523" stroke="#cdcdcd" stroke-width="1"/><line x1="782.6" x2="782.6" y1="523" y2="525.8" stroke="#999" stroke-width="1"/>
<line x1="906.3" x2="906.3" y1="496" y2="523" stroke="#cdcdcd" stroke-width="1"/><line x1="906.3" x2="906.3" y1="523" y2="525.8" stroke="#999" stroke-width="1"/>
<line x1="0" x2="985" y1="523.2" y2="523.2" stroke="#a8a8a8" stroke-width="1"/>
<g clip-path="url(#nv)">
<path d="M0 516.3 L2.2 516.5 L4.4 516.3 L6.6 516.4 L8.8 516.3 L11 515.8 L13.2 515.7 L15.4 516.3 L17.6 515.8 L19.8 515.7 L22 516.2 L24.2 515.6 L26.4 515.9 L28.6 515.4 L30.8 515.4 L33 514.9 L35.2 515.2 L37.4 515.3 L39.6 514.9 L41.8 515.1 L44 515.1 L46.2 514.5 L48.4 515.1 L50.6 515 L52.8 514.7 L55 514.5 L57.2 515.2 L59.4 514.9 L61.6 515.1 L63.8 515.2 L66 515.1 L68.2 515.3 L70.4 514.8 L72.6 515.2 L74.8 514.9 L77 515.3 L79.2 515.2 L81.4 514.5 L83.6 514.6 L85.8 514.6 L88 515.2 L90.2 514.7 L92.4 514.8 L94.6 514.4 L96.8 514.6 L99 514.4 L101.2 514.3 L103.4 514.4 L105.6 514.4 L107.8 514.6 L110 514.3 L112.2 514.5 L114.4 514.4 L116.6 514.4 L118.8 514.1 L121 513.6 L123.2 514.1 L125.4 514.2 L127.6 514.1 L129.8 513.7 L132 513.8 L134.2 513.2 L136.4 513.7 L138.6 513.4 L140.8 513.1 L143 512.8 L145.2 513.4 L147.4 513.4 L149.6 512.5 L151.8 513 L154 512.5 L156.2 512.2 L158.4 512.2 L160.6 512.5 L162.8 512.4 L165 511.5 L167.2 511.9 L169.4 511.5 L171.6 512.2 L173.8 512 L176 512.6 L178.2 512.8 L180.4 512.4 L182.6 513 L184.8 512.5 L187 512.4 L189.2 512.9 L191.4 512.3 L193.6 512.4 L195.8 512.6 L198 512.7 L200.2 512.3 L202.4 512.2 L204.6 512.9 L206.8 512.3 L209 512.9 L211.2 512.8 L213.4 512.3 L215.6 512.3 L217.8 512.3 L220 512.4 L222.2 512.3 L224.4 512.2 L226.6 512.2 L228.8 512.5 L231 512.1 L233.2 512 L235.4 512.2 L237.6 511.7 L239.8 511.7 L242 512.3 L244.2 511.8 L246.4 511.9 L248.6 511.4 L250.8 511.8 L253 512 L255.2 511.5 L257.4 512.1 L259.6 512.2 L261.8 511.7 L264 512.2 L266.2 512.1 L268.4 512.4 L270.6 512.3 L272.8 512.8 L275 513 L277.2 512.5 L279.4 512.7 L281.6 513.4 L283.8 513.8 L286 513.2 L288.2 513.1 L290.4 513 L292.6 512.5 L294.8 512.4 L297 512.1 L299.2 511.9 L301.4 511.9 L303.6 511.6 L305.8 511.7 L308 512 L310.2 511.3 L312.4 511.8 L314.6 511.9 L316.8 511.5 L319 511.4 L321.2 511.9 L323.4 511.4 L325.6 511.3 L327.8 511.6 L330 511.8 L332.2 511.2 L334.4 511.4 L336.6 511.5 L338.8 511.9 L341 511.5 L343.2 511.9 L345.4 511.3 L347.6 511.5 L349.8 511.7 L352 511.9 L354.2 511.6 L356.4 511.4 L358.6 511.3 L360.8 511.6 L363 511.3 L365.2 511.8 L367.4 511.8 L369.6 511.1 L371.8 511.1 L374 511.5 L376.2 511.3 L378.4 511.3 L380.6 510.8 L382.8 510.6 L385 510.6 L387.2 511 L389.4 510.5 L391.6 510.4 L393.8 510.4 L396 510.3 L398.2 510.3 L400.4 510.6 L402.6 509.9 L404.8 509.7 L407 510.4 L409.2 510.3 L411.4 510.3 L413.6 509.8 L415.8 510.3 L418 510.3 L420.2 509.6 L422.4 510.1 L424.6 510.2 L426.8 510 L429 510.8 L431.2 511.7 L433.4 512.9 L435.6 513.9 L437.8 514.4 L440 514.5 L442.2 513.9 L444.4 514 L446.6 512.9 L448.8 513.5 L451 513.2 L453.2 513.3 L455.4 513.2 L457.6 513.1 L459.8 512.7 L462 512.1 L464.2 512.7 L466.4 512.1 L468.6 512.1 L470.8 512.3 L473 512 L475.2 511.8 L477.4 512.1 L479.6 511.6 L481.8 511.2 L484 510.9 L486.2 511.3 L488.4 510.8 L490.6 510.9 L492.8 510.5 L495 510.3 L497.2 510.6 L499.4 510.9 L501.6 510.3 L503.8 510.9 L506 511 L508.2 510.9 L510.4 510.9 L512.6 510.7 L514.8 511.5 L517 510.5 L519.2 509.5 L521.4 509.6 L523.6 509.5 L525.8 509.7 L528 509.6 L530.2 509.5 L532.4 509.8 L534.6 509 L536.8 509 L539 509 L541.2 508.9 L543.4 508.8 L545.6 509.5 L547.8 509.3 L550 508.5 L552.2 508.7 L554.4 508.4 L556.6 508.2 L558.8 508.1 L561 508.3 L563.2 508.1 L565.4 507.7 L567.6 507.5 L569.8 507.6 L572 507.3 L574.2 507.6 L576.4 507.7 L578.6 507.3 L580.8 507 L583 507 L585.2 507.1 L587.4 507.2 L589.6 507.3 L591.8 506.9 L594 507.3 L596.2 507 L598.4 506.8 L600.6 506.7 L602.8 506.8 L605 506.9 L607.2 506.6 L609.4 506.8 L611.6 506.5 L613.8 506.3 L616 506.6 L618.2 506.8 L620.4 506.3 L622.6 506.8 L624.8 506.9 L627 507.4 L629.2 507.5 L631.4 507.1 L633.6 507.5 L635.8 507.3 L638 506.8 L640.2 506.9 L642.4 506.5 L644.6 507.1 L646.8 506.9 L649 507 L651.2 506.9 L653.4 506.7 L655.6 506.8 L657.8 506.8 L660 506.5 L662.2 507.1 L664.4 506.7 L666.6 507 L668.8 507.7 L671 507.2 L673.2 507.4 L675.4 507.5 L677.6 508.2 L679.8 507.4 L682 507.2 L684.2 507.9 L686.4 507.2 L688.6 507.7 L690.8 507.5 L693 507.6 L695.2 507.6 L697.4 507.5 L699.6 507.9 L701.8 507.4 L704 508.3 L706.2 508.3 L708.4 508.7 L710.6 508.4 L712.8 509.2 L715 509.6 L717.2 508.7 L719.4 508.8 L721.6 508.9 L723.8 508.9 L726 508.3 L728.2 508.1 L730.4 508 L732.6 508.2 L734.8 508.2 L737 508 L739.2 508.1 L741.4 508.4 L743.6 508.5 L745.8 508.8 L748 508.7 L750.2 509.3 L752.4 509.9 L754.6 509.1 L756.8 509.2 L759 508.4 L761.2 508.6 L763.4 508.4 L765.6 508.1 L767.8 507.6 L770 507.5 L772.2 507.7 L774.4 508 L776.6 507.3 L778.8 507.3 L781 508 L783.2 508.2 L785.4 507.8 L787.6 507.8 L789.8 508.1 L792 507.7 L794.2 507.9 L796.4 507.9 L798.6 508.3 L800.8 508.2 L803 508.2 L805.2 508.7 L807.4 508.8 L809.6 508.2 L811.8 508.5 L814 508.1 L816.2 508.4 L818.4 508.1 L820.6 507.7 L822.8 507.6 L825 507.4 L827.2 507.7 L829.4 507.5 L831.6 507.2 L833.8 507.4 L836 507.3 L838.2 507.7 L840.4 507.1 L842.6 507.8 L844.8 507.3 L847 507.4 L849.2 507.3 L851.4 507.6 L853.6 507.5 L855.8 507.3 L858 507.3 L860.2 507.6 L862.4 507.8 L864.6 507.4 L866.8 507.8 L869 508.1 L871.2 507.7 L873.4 507.6 L875.6 507.7 L877.8 508.2 L880 508.3 L882.2 508.6 L884.4 508.4 L886.6 507.6 L888.8 507.3 L891 507.2 L893.2 506.9 L895.4 507.1 L897.6 507.1 L899.8 506.9 L902 506.1 L904.2 506.5 L906.4 505.8 L908.6 505.8 L910.8 505.9 L913 505.2 L915.2 505.1 L917.4 505.6 L919.6 505 L921.8 505 L924 505.2 L926.2 505.2 L928.4 504.6 L930.6 504.8 L932.8 504.8 L935 505 L937.2 504.8 L939.4 505.2 L941.6 505.6 L943.8 505.2 L946 505.4 L948.2 505.1 L950.4 505.3 L952.6 505.6 L954.8 505.2 L957 505.8 L959.2 505.9 L961.4 505.1 L963.6 505.9 L965.8 505.1 L968 505.2 L970.2 505 L972.4 504.3 L974.6 504.4 L976.8 504.1 L977.6 503.9" fill="none" stroke="#23899a" stroke-width="1.6" stroke-linejoin="round"/>
<path d="M0 516.3 L2.2 516.5 L4.4 516.3" stroke="#c23a44" stroke-width="1.6" fill="none"/>
<path d="M6.6 516.4 L8.8 516.3 L11 515.8" stroke="#c23a44" stroke-width="1.6" fill="none"/>
<path d="M19.8 515.7 L22 516.2 L24.2 515.6 L26.4 515.9" stroke="#c23a44" stroke-width="1.6" fill="none"/>
<path d="M33 514.9 L35.2 515.2 L37.4 515.3 L39.6 514.9" stroke="#c23a44" stroke-width="1.6" fill="none"/>
<path d="M41.8 515.1 L44 515.1 L46.2 514.5" stroke="#c23a44" stroke-width="1.6" fill="none"/>
<path d="M52.8 514.7 L55 514.5 L57.2 515.2" stroke="#c23a44" stroke-width="1.6" fill="none"/>
<path d="M59.4 514.9 L61.6 515.1 L63.8 515.2" stroke="#c23a44" stroke-width="1.6" fill="none"/>
<path d="M72.6 515.2 L74.8 514.9 L77 515.3 L79.2 515.2" stroke="#c23a44" stroke-width="1.6" fill="none"/>
<path d="M88 515.2 L90.2 514.7" stroke="#c23a44" stroke-width="1.6" fill="none"/>
<path d="M99 514.4 L101.2 514.3" stroke="#c23a44" stroke-width="1.6" fill="none"/>
<path d="M105.6 514.4 L107.8 514.6 L110 514.3" stroke="#c23a44" stroke-width="1.6" fill="none"/>
<path d="M118.8 514.1 L121 513.6 L123.2 514.1" stroke="#c23a44" stroke-width="1.6" fill="none"/>
<path d="M125.4 514.2 L127.6 514.1" stroke="#c23a44" stroke-width="1.6" fill="none"/>
<path d="M134.2 513.2 L136.4 513.7" stroke="#c23a44" stroke-width="1.6" fill="none"/>
<path d="M140.8 513.1 L143 512.8 L145.2 513.4 L147.4 513.4" stroke="#c23a44" stroke-width="1.6" fill="none"/>
<path d="M154 512.5 L156.2 512.2 L158.4 512.2 L160.6 512.5" stroke="#c23a44" stroke-width="1.6" fill="none"/>
<path d="M165 511.5 L167.2 511.9" stroke="#c23a44" stroke-width="1.6" fill="none"/>
<path d="M173.8 512 L176 512.6 L178.2 512.8" stroke="#c23a44" stroke-width="1.6" fill="none"/>
<path d="M182.6 513 L184.8 512.5" stroke="#c23a44" stroke-width="1.6" fill="none"/>
<path d="M193.6 512.4 L195.8 512.6" stroke="#c23a44" stroke-width="1.6" fill="none"/>
<path d="M198 512.7 L200.2 512.3" stroke="#c23a44" stroke-width="1.6" fill="none"/>
<path d="M206.8 512.3 L209 512.9 L211.2 512.8 L213.4 512.3" stroke="#c23a44" stroke-width="1.6" fill="none"/>
<path d="M220 512.4 L222.2 512.3 L224.4 512.2" stroke="#c23a44" stroke-width="1.6" fill="none"/>
<path d="M228.8 512.5 L231 512.1" stroke="#c23a44" stroke-width="1.6" fill="none"/>
<path d="M235.4 512.2 L237.6 511.7 L239.8 511.7" stroke="#c23a44" stroke-width="1.6" fill="none"/>
<path d="M246.4 511.9 L248.6 511.4" stroke="#c23a44" stroke-width="1.6" fill="none"/>
<path d="M253 512 L255.2 511.5" stroke="#c23a44" stroke-width="1.6" fill="none"/>
<path d="M261.8 511.7 L264 512.2 L266.2 512.1 L268.4 512.4" stroke="#c23a44" stroke-width="1.6" fill="none"/>
<path d="M272.8 512.8 L275 513" stroke="#c23a44" stroke-width="1.6" fill="none"/>
<path d="M283.8 513.8 L286 513.2 L288.2 513.1 L290.4 513" stroke="#c23a44" stroke-width="1.6" fill="none"/>
<path d="M294.8 512.4 L297 512.1 L299.2 511.9" stroke="#c23a44" stroke-width="1.6" fill="none"/>
<path d="M305.8 511.7 L308 512 L310.2 511.3" stroke="#c23a44" stroke-width="1.6" fill="none"/>
<path d="M316.8 511.5 L319 511.4" stroke="#c23a44" stroke-width="1.6" fill="none"/>
<path d="M323.4 511.4 L325.6 511.3 L327.8 511.6" stroke="#c23a44" stroke-width="1.6" fill="none"/>
<path d="M330 511.8 L332.2 511.2" stroke="#c23a44" stroke-width="1.6" fill="none"/>
<path d="M336.6 511.5 L338.8 511.9 L341 511.5 L343.2 511.9" stroke="#c23a44" stroke-width="1.6" fill="none"/>
<path d="M345.4 511.3 L347.6 511.5" stroke="#c23a44" stroke-width="1.6" fill="none"/>
<path d="M354.2 511.6 L356.4 511.4" stroke="#c23a44" stroke-width="1.6" fill="none"/>
<path d="M360.8 511.6 L363 511.3" stroke="#c23a44" stroke-width="1.6" fill="none"/>
<path d="M369.6 511.1 L371.8 511.1 L374 511.5" stroke="#c23a44" stroke-width="1.6" fill="none"/>
<path d="M382.8 510.6 L385 510.6 L387.2 511" stroke="#c23a44" stroke-width="1.6" fill="none"/>
<path d="M396 510.3 L398.2 510.3" stroke="#c23a44" stroke-width="1.6" fill="none"/>
<path d="M404.8 509.7 L407 510.4 L409.2 510.3 L411.4 510.3" stroke="#c23a44" stroke-width="1.6" fill="none"/>
<path d="M415.8 510.3 L418 510.3 L420.2 509.6" stroke="#c23a44" stroke-width="1.6" fill="none"/>
<path d="M424.6 510.2 L426.8 510 L429 510.8 L431.2 511.7" stroke="#c23a44" stroke-width="1.6" fill="none"/>
<path d="M437.8 514.4 L440 514.5" stroke="#c23a44" stroke-width="1.6" fill="none"/>
<path d="M446.6 512.9 L448.8 513.5" stroke="#c23a44" stroke-width="1.6" fill="none"/>
<path d="M453.2 513.3 L455.4 513.2 L457.6 513.1" stroke="#c23a44" stroke-width="1.6" fill="none"/>
<path d="M462 512.1 L464.2 512.7 L466.4 512.1" stroke="#c23a44" stroke-width="1.6" fill="none"/>
<path d="M468.6 512.1 L470.8 512.3 L473 512" stroke="#c23a44" stroke-width="1.6" fill="none"/>
<path d="M479.6 511.6 L481.8 511.2 L484 510.9" stroke="#c23a44" stroke-width="1.6" fill="none"/>
<path d="M488.4 510.8 L490.6 510.9 L492.8 510.5 L495 510.3" stroke="#c23a44" stroke-width="1.6" fill="none"/>
<path d="M501.6 510.3 L503.8 510.9 L506 511" stroke="#c23a44" stroke-width="1.6" fill="none"/>
<path d="M514.8 511.5 L517 510.5 L519.2 509.5" stroke="#c23a44" stroke-width="1.6" fill="none"/>
<path d="M525.8 509.7 L528 509.6 L530.2 509.5" stroke="#c23a44" stroke-width="1.6" fill="none"/>
<path d="M539 509 L541.2 508.9 L543.4 508.8" stroke="#c23a44" stroke-width="1.6" fill="none"/>
<path d="M545.6 509.5 L547.8 509.3 L550 508.5 L552.2 508.7" stroke="#c23a44" stroke-width="1.6" fill="none"/>
<path d="M556.6 508.2 L558.8 508.1" stroke="#c23a44" stroke-width="1.6" fill="none"/>
<path d="M561 508.3 L563.2 508.1" stroke="#c23a44" stroke-width="1.6" fill="none"/>
<path d="M569.8 507.6 L572 507.3" stroke="#c23a44" stroke-width="1.6" fill="none"/>
<path d="M578.6 507.3 L580.8 507 L583 507" stroke="#c23a44" stroke-width="1.6" fill="none"/>
<path d="M587.4 507.2 L589.6 507.3" stroke="#c23a44" stroke-width="1.6" fill="none"/>
<path d="M596.2 507 L598.4 506.8" stroke="#c23a44" stroke-width="1.6" fill="none"/>
<path d="M600.6 506.7 L602.8 506.8 L605 506.9 L607.2 506.6" stroke="#c23a44" stroke-width="1.6" fill="none"/>
<path d="M616 506.6 L618.2 506.8 L620.4 506.3" stroke="#c23a44" stroke-width="1.6" fill="none"/>
<path d="M622.6 506.8 L624.8 506.9 L627 507.4 L629.2 507.5" stroke="#c23a44" stroke-width="1.6" fill="none"/>
<path d="M633.6 507.5 L635.8 507.3" stroke="#c23a44" stroke-width="1.6" fill="none"/>
<path d="M640.2 506.9 L642.4 506.5 L644.6 507.1" stroke="#c23a44" stroke-width="1.6" fill="none"/>
<path d="M646.8 506.9 L649 507 L651.2 506.9 L653.4 506.7" stroke="#c23a44" stroke-width="1.6" fill="none"/>
<path d="M655.6 506.8 L657.8 506.8" stroke="#c23a44" stroke-width="1.6" fill="none"/>
<path d="M662.2 507.1 L664.4 506.7 L666.6 507 L668.8 507.7" stroke="#c23a44" stroke-width="1.6" fill="none"/>
<path d="M673.2 507.4 L675.4 507.5 L677.6 508.2 L679.8 507.4" stroke="#c23a44" stroke-width="1.6" fill="none"/>
<path d="M682 507.2 L684.2 507.9 L686.4 507.2" stroke="#c23a44" stroke-width="1.6" fill="none"/>
<path d="M693 507.6 L695.2 507.6" stroke="#c23a44" stroke-width="1.6" fill="none"/>
<path d="M699.6 507.9 L701.8 507.4 L704 508.3" stroke="#c23a44" stroke-width="1.6" fill="none"/>
<path d="M708.4 508.7 L710.6 508.4 L712.8 509.2" stroke="#c23a44" stroke-width="1.6" fill="none"/>
<path d="M721.6 508.9 L723.8 508.9" stroke="#c23a44" stroke-width="1.6" fill="none"/>
<path d="M726 508.3 L728.2 508.1 L730.4 508 L732.6 508.2" stroke="#c23a44" stroke-width="1.6" fill="none"/>
<path d="M734.8 508.2 L737 508" stroke="#c23a44" stroke-width="1.6" fill="none"/>
<path d="M745.8 508.8 L748 508.7 L750.2 509.3" stroke="#c23a44" stroke-width="1.6" fill="none"/>
<path d="M754.6 509.1 L756.8 509.2" stroke="#c23a44" stroke-width="1.6" fill="none"/>
<path d="M761.2 508.6 L763.4 508.4 L765.6 508.1" stroke="#c23a44" stroke-width="1.6" fill="none"/>
<path d="M774.4 508 L776.6 507.3" stroke="#c23a44" stroke-width="1.6" fill="none"/>
<path d="M783.2 508.2 L785.4 507.8 L787.6 507.8" stroke="#c23a44" stroke-width="1.6" fill="none"/>
<path d="M789.8 508.1 L792 507.7" stroke="#c23a44" stroke-width="1.6" fill="none"/>
<path d="M798.6 508.3 L800.8 508.2" stroke="#c23a44" stroke-width="1.6" fill="none"/>
<path d="M805.2 508.7 L807.4 508.8" stroke="#c23a44" stroke-width="1.6" fill="none"/>
<path d="M814 508.1 L816.2 508.4 L818.4 508.1" stroke="#c23a44" stroke-width="1.6" fill="none"/>
<path d="M825 507.4 L827.2 507.7" stroke="#c23a44" stroke-width="1.6" fill="none"/>
<path d="M833.8 507.4 L836 507.3 L838.2 507.7" stroke="#c23a44" stroke-width="1.6" fill="none"/>
<path d="M842.6 507.8 L844.8 507.3 L847 507.4" stroke="#c23a44" stroke-width="1.6" fill="none"/>
<path d="M851.4 507.6 L853.6 507.5" stroke="#c23a44" stroke-width="1.6" fill="none"/>
<path d="M860.2 507.6 L862.4 507.8 L864.6 507.4" stroke="#c23a44" stroke-width="1.6" fill="none"/>
<path d="M873.4 507.6 L875.6 507.7 L877.8 508.2" stroke="#c23a44" stroke-width="1.6" fill="none"/>
<path d="M884.4 508.4 L886.6 507.6" stroke="#c23a44" stroke-width="1.6" fill="none"/>
<path d="M893.2 506.9 L895.4 507.1" stroke="#c23a44" stroke-width="1.6" fill="none"/>
<path d="M904.2 506.5 L906.4 505.8 L908.6 505.8" stroke="#c23a44" stroke-width="1.6" fill="none"/>
<path d="M913 505.2 L915.2 505.1 L917.4 505.6" stroke="#c23a44" stroke-width="1.6" fill="none"/>
<path d="M924 505.2 L926.2 505.2 L928.4 504.6 L930.6 504.8" stroke="#c23a44" stroke-width="1.6" fill="none"/>
<path d="M935 505 L937.2 504.8 L939.4 505.2 L941.6 505.6" stroke="#c23a44" stroke-width="1.6" fill="none"/>
<path d="M948.2 505.1 L950.4 505.3" stroke="#c23a44" stroke-width="1.6" fill="none"/>
<path d="M952.6 505.6 L954.8 505.2" stroke="#c23a44" stroke-width="1.6" fill="none"/>
<path d="M959.2 505.9 L961.4 505.1 L963.6 505.9" stroke="#c23a44" stroke-width="1.6" fill="none"/>
<path d="M968 505.2 L970.2 505 L972.4 504.3" stroke="#c23a44" stroke-width="1.6" fill="none"/>
</g>
<line x1="919.9" x2="919.9" y1="496.3" y2="523" stroke="#b5b5b5" stroke-width="0.9"/><line x1="977.5" x2="977.5" y1="496.3" y2="523" stroke="#b5b5b5" stroke-width="0.9"/>
<rect x="918" y="500.3" width="3.1" height="17.3" rx="1.4" fill="#9c9c9c"/>
<rect x="976" y="500.3" width="3.1" height="17.3" rx="1.4" fill="#9c9c9c"/>
<rect x="0" y="497.4" width="10" height="10.2" rx="1" fill="#fff"/>
<path d="M2.5 500.1 l5 5 M7.5 500.1 l-5 5" stroke="#7a7a7a" stroke-width="1.7" fill="none"/>
<text x="0" y="533.7" font-size="8.7" fill="#555" font-weight="normal" text-anchor="start" textLength="8.8" lengthAdjust="spacingAndGlyphs" >16</text>
<text x="29.3" y="533.7" font-size="8.7" fill="#555" font-weight="normal" text-anchor="start" textLength="18.4" lengthAdjust="spacingAndGlyphs" >2017</text>
<text x="152.9" y="533.7" font-size="8.7" fill="#555" font-weight="normal" text-anchor="start" textLength="18.4" lengthAdjust="spacingAndGlyphs" >2018</text>
<text x="277.9" y="533.7" font-size="8.7" fill="#555" font-weight="normal" text-anchor="start" textLength="18.4" lengthAdjust="spacingAndGlyphs" >2019</text>
<text x="401.2" y="533.7" font-size="8.7" fill="#555" font-weight="normal" text-anchor="start" textLength="18.4" lengthAdjust="spacingAndGlyphs" >2020</text>
<text x="524.5" y="533.7" font-size="8.7" fill="#555" font-weight="normal" text-anchor="start" textLength="18.4" lengthAdjust="spacingAndGlyphs" >2021</text>
<text x="648.8" y="533.7" font-size="8.7" fill="#555" font-weight="normal" text-anchor="start" textLength="18.4" lengthAdjust="spacingAndGlyphs" >2022</text>
<text x="773.4" y="533.7" font-size="8.7" fill="#555" font-weight="normal" text-anchor="start" textLength="18.4" lengthAdjust="spacingAndGlyphs" >2023</text>
<text x="897.1" y="533.7" font-size="8.7" fill="#555" font-weight="normal" text-anchor="start" textLength="18.4" lengthAdjust="spacingAndGlyphs" >2024</text>
<path d="M985 537.8 V542 H980.8 Z" fill="#666"/>
<rect x="0" y="24" width="985" height="25.2" fill="#fff"/>
<line x1="0" x2="985" y1="49.35" y2="49.35" stroke="#8e8e8e" stroke-width="1.2"/>
<text x="7.6" y="40.4" font-size="9" fill="#333" font-weight="bold" text-anchor="start" textLength="20" lengthAdjust="spacingAndGlyphs" >Daily</text>
<path d="M31.9 35.8 h5.6 l-2.8 3.4 Z" fill="#555"/>
<text x="51.5" y="40.4" font-size="9" fill="#333" font-weight="bold" text-anchor="start" textLength="37.8" lengthAdjust="spacingAndGlyphs" >Technical</text>
<path d="M94.2 35.8 h5.6 l-2.8 3.4 Z" fill="#555"/>
<text x="113.4" y="40.4" font-size="9" fill="#333" font-weight="bold" text-anchor="start" textLength="29.2" lengthAdjust="spacingAndGlyphs" >Display</text>
<path d="M147.5 35.8 h5.6 l-2.8 3.4 Z" fill="#555"/>
<text x="166.8" y="40.4" font-size="9" fill="#333" font-weight="bold" text-anchor="start" textLength="21" lengthAdjust="spacingAndGlyphs" >More</text>
<path d="M191.4 35.8 h5.6 l-2.8 3.4 Z" fill="#555"/>
<path d="M211.7 40.2 V34 q0 -0.8 0.8 -0.8 h2.5 l1.1 1.2 h3.4 q0.8 0 0.8 0.8 v1" fill="none" stroke="#b9b9b9" stroke-width="1"/>
<path d="M214 36.3 h7.9 l-2.2 4.5 h-7.9 Z" fill="#2e2e2e"/>
<g transform="translate(234.1 32)"><path d="M1.5 0.7 h5.9 l2 2 v5.9 q0 0.8 -0.8 0.8 h-7.1 q-0.8 0 -0.8 -0.8 v-7.1 q0 -0.8 0.8 -0.8 Z" fill="#fff" stroke="#2b2b2b" stroke-width="1.4" stroke-linejoin="round"/><rect x="1.3" y="0.7" width="6.6" height="3.2" fill="#2b2b2b"/><rect x="5.7" y="1" width="1.2" height="1.9" fill="#9a9a9a"/></g>
<rect x="255.5" y="36" width="9.1" height="2.2" fill="#111"/>
<rect x="276.6" y="36.1" width="9" height="2.2" fill="#111"/><rect x="280" y="32.8" width="2.2" height="8.8" fill="#111"/>
<text x="778.9" y="41.2" font-size="8.8" fill="#444" font-weight="normal" text-anchor="start" textLength="74.2" lengthAdjust="spacingAndGlyphs" >CURRENT PRICE:</text>
<rect x="865" y="29" width="55" height="15.6" fill="#c52a3b"/>
<rect x="927.3" y="29" width="54.8" height="15.6" fill="#1a8f9b"/>
<text x="874.8" y="40" font-size="9.3" fill="#fff" textLength="35.4" lengthAdjust="spacingAndGlyphs">40684.<tspan font-size="6.6">0</tspan></text>
<text x="937.1" y="40" font-size="9.3" fill="#fff" textLength="35.4" lengthAdjust="spacingAndGlyphs">40688.<tspan font-size="6.6">0</tspan></text>
<path d="M869.8 30 h2.8 v2.7 h1.5 l-2.9 3 l-2.9 -3 h1.5 Z" fill="#8a1626"/>
<path d="M974.5 35.7 h2.8 v-2.7 h1.5 l-2.9 -3 l-2.9 3 h1.5 Z" fill="#0d5b64"/>
<rect x="0" y="0" width="985" height="24" fill="#000"/>
<rect x="4.6" y="4.9" width="14.4" height="14.8" fill="#fff" stroke="#cfd6d8" stroke-width="0.8"/>
<path d="M6.6 15.6 L10 10.8 L12.2 13.2 L16.6 8" fill="none" stroke="#1a8f9b" stroke-width="1.5" stroke-linejoin="miter"/>
<text x="25.9" y="15.9" font-size="8.6" fill="#e9e9e9" font-weight="normal" text-anchor="start" textLength="92" lengthAdjust="spacingAndGlyphs" >WALL STREET, DAILY</text>
<g stroke="#e6e6e6" fill="none"><circle cx="128.7" cy="10.9" r="2.5" stroke-width="1"/><path d="M130.6 12.9 L134 16.2" stroke-width="1.5" stroke-linecap="round"/></g>
<line x1="939.2" x2="947.4" y1="16.3" y2="16.3" stroke="#e0e0e0" stroke-width="1.1"/>
<g stroke="#e0e0e0" fill="none" stroke-width="1"><rect x="953.8" y="11.3" width="6" height="5.3"/><path d="M956 14 h6 M960.5 12.6 l1.6 1.4 l-1.6 1.4" /><path d="M961.6 7.6 v3.4 M959.9 9.3 h3.4" stroke-width="1.1"/></g>
<path d="M969.3 7.8 L978 16.9 M978 7.8 L969.3 16.9" stroke="#e6e6e6" stroke-width="1" fill="none"/>
</svg></body></html>
